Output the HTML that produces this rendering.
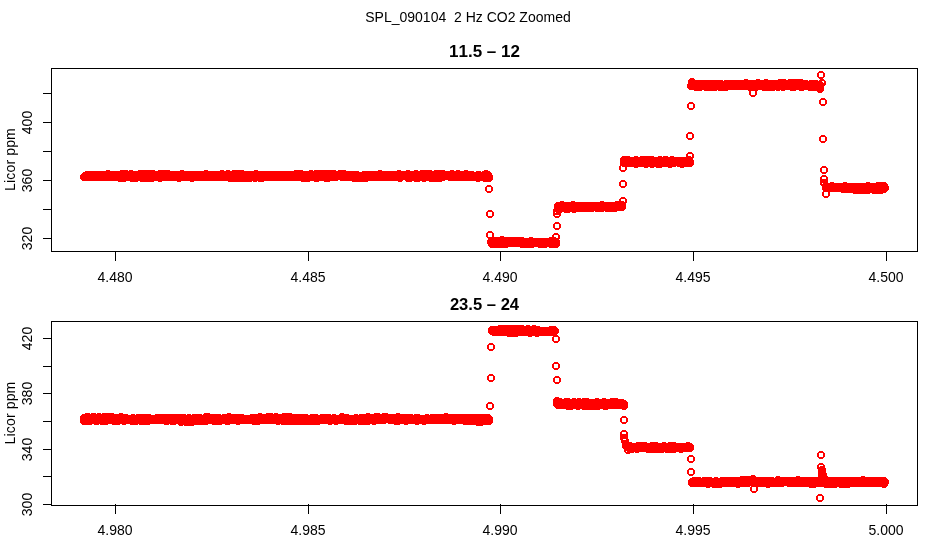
<!DOCTYPE html>
<html><head><meta charset="utf-8"><title>SPL_090104 2 Hz CO2 Zoomed</title>
<style>html,body{margin:0;padding:0;background:#fff;overflow:hidden}svg{display:block}text{font-family:"Liberation Sans",sans-serif;fill:#000;font-kerning:none}</style></head><body>
<svg width="936" height="540" viewBox="0 0 936 540">
<defs><path id="c" fill="#f00" shape-rendering="crispEdges" d="M2 0h4v1h1v1h1v4h-1v1h-1v1h-4v-1h-1v-1h-1v-4h1v-1h1zM2 2v4h4v-4z"/></defs>
<rect width="936" height="540" fill="#fff"/>
<text x="468" y="22" font-size="14" text-anchor="middle" xml:space="preserve">SPL_090104&#160; 2 Hz CO2 Zoomed</text>
<g stroke="#000" fill="none" shape-rendering="crispEdges"><path d="M51.5 68.5H917.5V251.5H51.5Z"/><path d="M115.5 252v9M308.5 252v9M500.5 252v9M693.5 252v9M886.5 252v9M51 93.5h-8M51 122.5h-8M51 151.5h-8M51 180.5h-8M51 209.5h-8M51 238.5h-8"/></g>
<text x="484.5" y="57" font-size="17" text-anchor="middle" font-weight="bold">11.5 &#8211; 12</text>
<text x="115" y="282" font-size="14" text-anchor="middle">4.480</text>
<text x="308" y="282" font-size="14" text-anchor="middle">4.485</text>
<text x="500" y="282" font-size="14" text-anchor="middle">4.490</text>
<text x="693" y="282" font-size="14" text-anchor="middle">4.495</text>
<text x="886" y="282" font-size="14" text-anchor="middle">4.500</text>
<text x="32" y="122.5" font-size="14" text-anchor="middle" transform="rotate(-90 32 122.5)">400</text>
<text x="32" y="180.5" font-size="14" text-anchor="middle" transform="rotate(-90 32 180.5)">360</text>
<text x="32" y="238.5" font-size="14" text-anchor="middle" transform="rotate(-90 32 238.5)">320</text>
<text x="15" y="159.5" font-size="14" text-anchor="middle" transform="rotate(-90 15 159.5)" letter-spacing="0.15">Licor ppm</text>
<g stroke="#000" fill="none" shape-rendering="crispEdges"><path d="M51.5 321.5H917.5V505.5H51.5Z"/><path d="M115.5 504v10M308.5 504v10M500.5 504v10M693.5 504v10M886.5 504v10M51 338.5h-8M51 366.5h-8M51 393.5h-8M51 421.5h-8M51 449.5h-8M51 476.5h-8M51 504.5h-8"/></g>
<text x="484.5" y="310" font-size="16.6" text-anchor="middle" font-weight="bold">23.5 &#8211; 24</text>
<text x="115" y="535" font-size="14" text-anchor="middle">4.980</text>
<text x="308" y="535" font-size="14" text-anchor="middle">4.985</text>
<text x="500" y="535" font-size="14" text-anchor="middle">4.990</text>
<text x="693" y="535" font-size="14" text-anchor="middle">4.995</text>
<text x="886" y="535" font-size="14" text-anchor="middle">5.000</text>
<text x="32" y="338.5" font-size="14" text-anchor="middle" transform="rotate(-90 32 338.5)">420</text>
<text x="32" y="393.5" font-size="14" text-anchor="middle" transform="rotate(-90 32 393.5)">380</text>
<text x="32" y="449.5" font-size="14" text-anchor="middle" transform="rotate(-90 32 449.5)">340</text>
<text x="32" y="504.5" font-size="14" text-anchor="middle" transform="rotate(-90 32 504.5)">300</text>
<text x="15" y="413" font-size="14" text-anchor="middle" transform="rotate(-90 15 413)" letter-spacing="0.15">Licor ppm</text>
<g><use href="#c" x="80" y="173"/><use href="#c" x="81" y="172"/><use href="#c" x="82" y="172"/><use href="#c" x="82" y="173"/><use href="#c" x="83" y="172"/><use href="#c" x="83" y="173"/><use href="#c" x="83" y="171"/><use href="#c" x="84" y="172"/><use href="#c" x="85" y="172"/><use href="#c" x="86" y="172"/><use href="#c" x="86" y="173"/><use href="#c" x="87" y="172"/><use href="#c" x="86" y="171"/><use href="#c" x="87" y="173"/><use href="#c" x="88" y="173"/><use href="#c" x="88" y="172"/><use href="#c" x="89" y="173"/><use href="#c" x="90" y="171"/><use href="#c" x="90" y="173"/><use href="#c" x="90" y="172"/><use href="#c" x="92" y="171"/><use href="#c" x="92" y="173"/><use href="#c" x="92" y="172"/><use href="#c" x="93" y="171"/><use href="#c" x="93" y="173"/><use href="#c" x="94" y="172"/><use href="#c" x="94" y="171"/><use href="#c" x="95" y="171"/><use href="#c" x="95" y="172"/><use href="#c" x="96" y="171"/><use href="#c" x="96" y="172"/><use href="#c" x="97" y="173"/><use href="#c" x="97" y="171"/><use href="#c" x="98" y="172"/><use href="#c" x="98" y="171"/><use href="#c" x="99" y="172"/><use href="#c" x="98" y="173"/><use href="#c" x="100" y="171"/><use href="#c" x="100" y="172"/><use href="#c" x="101" y="173"/><use href="#c" x="101" y="171"/><use href="#c" x="102" y="172"/><use href="#c" x="102" y="171"/><use href="#c" x="103" y="172"/><use href="#c" x="104" y="171"/><use href="#c" x="104" y="172"/><use href="#c" x="104" y="173"/><use href="#c" x="105" y="171"/><use href="#c" x="105" y="172"/><use href="#c" x="104" y="170"/><use href="#c" x="106" y="172"/><use href="#c" x="106" y="173"/><use href="#c" x="107" y="172"/><use href="#c" x="108" y="173"/><use href="#c" x="108" y="172"/><use href="#c" x="109" y="171"/><use href="#c" x="110" y="171"/><use href="#c" x="110" y="172"/><use href="#c" x="110" y="173"/><use href="#c" x="112" y="172"/><use href="#c" x="112" y="173"/><use href="#c" x="112" y="171"/><use href="#c" x="113" y="172"/><use href="#c" x="114" y="172"/><use href="#c" x="114" y="171"/><use href="#c" x="115" y="173"/><use href="#c" x="115" y="172"/><use href="#c" x="114" y="173"/><use href="#c" x="116" y="172"/><use href="#c" x="116" y="174"/><use href="#c" x="116" y="171"/><use href="#c" x="117" y="171"/><use href="#c" x="116" y="173"/><use href="#c" x="117" y="173"/><use href="#c" x="118" y="172"/><use href="#c" x="118" y="170"/><use href="#c" x="118" y="171"/><use href="#c" x="120" y="172"/><use href="#c" x="120" y="171"/><use href="#c" x="120" y="173"/><use href="#c" x="121" y="171"/><use href="#c" x="120" y="174"/><use href="#c" x="122" y="170"/><use href="#c" x="122" y="172"/><use href="#c" x="122" y="171"/><use href="#c" x="123" y="172"/><use href="#c" x="123" y="173"/><use href="#c" x="122" y="173"/><use href="#c" x="124" y="173"/><use href="#c" x="124" y="171"/><use href="#c" x="125" y="173"/><use href="#c" x="125" y="172"/><use href="#c" x="124" y="172"/><use href="#c" x="126" y="172"/><use href="#c" x="126" y="173"/><use href="#c" x="127" y="170"/><use href="#c" x="127" y="172"/><use href="#c" x="128" y="172"/><use href="#c" x="128" y="171"/><use href="#c" x="128" y="174"/><use href="#c" x="129" y="171"/><use href="#c" x="128" y="173"/><use href="#c" x="129" y="173"/><use href="#c" x="130" y="172"/><use href="#c" x="130" y="173"/><use href="#c" x="131" y="172"/><use href="#c" x="132" y="174"/><use href="#c" x="132" y="171"/><use href="#c" x="132" y="172"/><use href="#c" x="132" y="173"/><use href="#c" x="133" y="171"/><use href="#c" x="134" y="173"/><use href="#c" x="134" y="172"/><use href="#c" x="135" y="171"/><use href="#c" x="136" y="172"/><use href="#c" x="136" y="171"/><use href="#c" x="137" y="172"/><use href="#c" x="136" y="170"/><use href="#c" x="138" y="174"/><use href="#c" x="138" y="172"/><use href="#c" x="138" y="173"/><use href="#c" x="139" y="172"/><use href="#c" x="139" y="171"/><use href="#c" x="138" y="171"/><use href="#c" x="140" y="172"/><use href="#c" x="140" y="173"/><use href="#c" x="140" y="170"/><use href="#c" x="140" y="171"/><use href="#c" x="141" y="172"/><use href="#c" x="142" y="173"/><use href="#c" x="142" y="172"/><use href="#c" x="142" y="174"/><use href="#c" x="142" y="171"/><use href="#c" x="143" y="174"/><use href="#c" x="143" y="172"/><use href="#c" x="143" y="171"/><use href="#c" x="144" y="172"/><use href="#c" x="144" y="173"/><use href="#c" x="144" y="170"/><use href="#c" x="145" y="172"/><use href="#c" x="145" y="174"/><use href="#c" x="145" y="173"/><use href="#c" x="146" y="174"/><use href="#c" x="146" y="172"/><use href="#c" x="146" y="173"/><use href="#c" x="147" y="171"/><use href="#c" x="147" y="173"/><use href="#c" x="147" y="170"/><use href="#c" x="148" y="171"/><use href="#c" x="148" y="173"/><use href="#c" x="148" y="172"/><use href="#c" x="148" y="174"/><use href="#c" x="149" y="170"/><use href="#c" x="148" y="170"/><use href="#c" x="149" y="172"/><use href="#c" x="150" y="171"/><use href="#c" x="150" y="173"/><use href="#c" x="150" y="172"/><use href="#c" x="151" y="172"/><use href="#c" x="152" y="173"/><use href="#c" x="152" y="172"/><use href="#c" x="152" y="171"/><use href="#c" x="153" y="172"/><use href="#c" x="154" y="171"/><use href="#c" x="155" y="171"/><use href="#c" x="154" y="172"/><use href="#c" x="156" y="171"/><use href="#c" x="156" y="174"/><use href="#c" x="156" y="170"/><use href="#c" x="157" y="172"/><use href="#c" x="156" y="172"/><use href="#c" x="156" y="173"/><use href="#c" x="158" y="170"/><use href="#c" x="158" y="171"/><use href="#c" x="158" y="172"/><use href="#c" x="159" y="172"/><use href="#c" x="160" y="171"/><use href="#c" x="160" y="170"/><use href="#c" x="160" y="173"/><use href="#c" x="161" y="171"/><use href="#c" x="162" y="171"/><use href="#c" x="162" y="172"/><use href="#c" x="163" y="170"/><use href="#c" x="162" y="173"/><use href="#c" x="164" y="173"/><use href="#c" x="164" y="172"/><use href="#c" x="164" y="171"/><use href="#c" x="164" y="170"/><use href="#c" x="165" y="172"/><use href="#c" x="166" y="172"/><use href="#c" x="166" y="171"/><use href="#c" x="167" y="171"/><use href="#c" x="167" y="172"/><use href="#c" x="168" y="171"/><use href="#c" x="168" y="172"/><use href="#c" x="169" y="172"/><use href="#c" x="169" y="171"/><use href="#c" x="168" y="173"/><use href="#c" x="170" y="172"/><use href="#c" x="171" y="171"/><use href="#c" x="170" y="173"/><use href="#c" x="172" y="172"/><use href="#c" x="172" y="171"/><use href="#c" x="172" y="173"/><use href="#c" x="174" y="171"/><use href="#c" x="174" y="172"/><use href="#c" x="175" y="172"/><use href="#c" x="174" y="173"/><use href="#c" x="175" y="174"/><use href="#c" x="176" y="172"/><use href="#c" x="176" y="171"/><use href="#c" x="176" y="173"/><use href="#c" x="177" y="173"/><use href="#c" x="177" y="172"/><use href="#c" x="178" y="170"/><use href="#c" x="178" y="172"/><use href="#c" x="178" y="171"/><use href="#c" x="180" y="173"/><use href="#c" x="180" y="172"/><use href="#c" x="180" y="171"/><use href="#c" x="181" y="172"/><use href="#c" x="181" y="173"/><use href="#c" x="182" y="173"/><use href="#c" x="182" y="172"/><use href="#c" x="183" y="172"/><use href="#c" x="184" y="171"/><use href="#c" x="184" y="172"/><use href="#c" x="184" y="173"/><use href="#c" x="185" y="172"/><use href="#c" x="186" y="172"/><use href="#c" x="187" y="171"/><use href="#c" x="187" y="172"/><use href="#c" x="188" y="172"/><use href="#c" x="188" y="171"/><use href="#c" x="188" y="174"/><use href="#c" x="189" y="172"/><use href="#c" x="190" y="172"/><use href="#c" x="191" y="172"/><use href="#c" x="191" y="171"/><use href="#c" x="190" y="171"/><use href="#c" x="192" y="172"/><use href="#c" x="192" y="171"/><use href="#c" x="192" y="173"/><use href="#c" x="193" y="172"/><use href="#c" x="194" y="173"/><use href="#c" x="194" y="171"/><use href="#c" x="194" y="172"/><use href="#c" x="195" y="172"/><use href="#c" x="195" y="171"/><use href="#c" x="196" y="172"/><use href="#c" x="196" y="173"/><use href="#c" x="196" y="171"/><use href="#c" x="197" y="172"/><use href="#c" x="198" y="172"/><use href="#c" x="198" y="171"/><use href="#c" x="198" y="173"/><use href="#c" x="199" y="172"/><use href="#c" x="199" y="171"/><use href="#c" x="199" y="173"/><use href="#c" x="200" y="172"/><use href="#c" x="200" y="173"/><use href="#c" x="202" y="171"/><use href="#c" x="202" y="172"/><use href="#c" x="202" y="173"/><use href="#c" x="202" y="170"/><use href="#c" x="204" y="172"/><use href="#c" x="204" y="173"/><use href="#c" x="204" y="171"/><use href="#c" x="205" y="172"/><use href="#c" x="206" y="171"/><use href="#c" x="206" y="172"/><use href="#c" x="206" y="173"/><use href="#c" x="207" y="171"/><use href="#c" x="207" y="173"/><use href="#c" x="207" y="172"/><use href="#c" x="208" y="173"/><use href="#c" x="208" y="172"/><use href="#c" x="209" y="171"/><use href="#c" x="208" y="171"/><use href="#c" x="210" y="172"/><use href="#c" x="210" y="171"/><use href="#c" x="210" y="173"/><use href="#c" x="211" y="173"/><use href="#c" x="212" y="171"/><use href="#c" x="212" y="172"/><use href="#c" x="212" y="173"/><use href="#c" x="214" y="173"/><use href="#c" x="214" y="171"/><use href="#c" x="214" y="172"/><use href="#c" x="215" y="172"/><use href="#c" x="215" y="171"/><use href="#c" x="216" y="171"/><use href="#c" x="216" y="173"/><use href="#c" x="217" y="173"/><use href="#c" x="217" y="171"/><use href="#c" x="218" y="170"/><use href="#c" x="218" y="171"/><use href="#c" x="218" y="173"/><use href="#c" x="218" y="172"/><use href="#c" x="219" y="172"/><use href="#c" x="220" y="172"/><use href="#c" x="220" y="171"/><use href="#c" x="221" y="171"/><use href="#c" x="220" y="173"/><use href="#c" x="221" y="172"/><use href="#c" x="221" y="173"/><use href="#c" x="222" y="171"/><use href="#c" x="222" y="173"/><use href="#c" x="222" y="172"/><use href="#c" x="223" y="173"/><use href="#c" x="223" y="171"/><use href="#c" x="223" y="172"/><use href="#c" x="224" y="172"/><use href="#c" x="224" y="170"/><use href="#c" x="224" y="173"/><use href="#c" x="225" y="171"/><use href="#c" x="225" y="173"/><use href="#c" x="224" y="171"/><use href="#c" x="226" y="173"/><use href="#c" x="226" y="172"/><use href="#c" x="226" y="174"/><use href="#c" x="226" y="171"/><use href="#c" x="227" y="173"/><use href="#c" x="227" y="172"/><use href="#c" x="228" y="171"/><use href="#c" x="228" y="172"/><use href="#c" x="228" y="173"/><use href="#c" x="228" y="174"/><use href="#c" x="229" y="173"/><use href="#c" x="230" y="173"/><use href="#c" x="230" y="170"/><use href="#c" x="230" y="171"/><use href="#c" x="230" y="172"/><use href="#c" x="231" y="173"/><use href="#c" x="231" y="172"/><use href="#c" x="232" y="171"/><use href="#c" x="232" y="172"/><use href="#c" x="232" y="173"/><use href="#c" x="232" y="170"/><use href="#c" x="233" y="172"/><use href="#c" x="232" y="174"/><use href="#c" x="234" y="173"/><use href="#c" x="234" y="172"/><use href="#c" x="234" y="171"/><use href="#c" x="234" y="174"/><use href="#c" x="235" y="172"/><use href="#c" x="236" y="173"/><use href="#c" x="236" y="170"/><use href="#c" x="236" y="171"/><use href="#c" x="236" y="172"/><use href="#c" x="237" y="171"/><use href="#c" x="237" y="174"/><use href="#c" x="238" y="173"/><use href="#c" x="238" y="172"/><use href="#c" x="238" y="174"/><use href="#c" x="239" y="172"/><use href="#c" x="238" y="170"/><use href="#c" x="240" y="174"/><use href="#c" x="240" y="172"/><use href="#c" x="240" y="173"/><use href="#c" x="241" y="174"/><use href="#c" x="241" y="173"/><use href="#c" x="240" y="171"/><use href="#c" x="242" y="172"/><use href="#c" x="242" y="173"/><use href="#c" x="243" y="172"/><use href="#c" x="243" y="171"/><use href="#c" x="243" y="174"/><use href="#c" x="244" y="172"/><use href="#c" x="244" y="171"/><use href="#c" x="244" y="173"/><use href="#c" x="245" y="172"/><use href="#c" x="245" y="173"/><use href="#c" x="245" y="174"/><use href="#c" x="246" y="171"/><use href="#c" x="246" y="174"/><use href="#c" x="246" y="172"/><use href="#c" x="246" y="173"/><use href="#c" x="247" y="173"/><use href="#c" x="247" y="172"/><use href="#c" x="248" y="171"/><use href="#c" x="248" y="173"/><use href="#c" x="248" y="172"/><use href="#c" x="249" y="172"/><use href="#c" x="250" y="172"/><use href="#c" x="250" y="173"/><use href="#c" x="251" y="174"/><use href="#c" x="251" y="172"/><use href="#c" x="252" y="170"/><use href="#c" x="252" y="172"/><use href="#c" x="252" y="173"/><use href="#c" x="253" y="172"/><use href="#c" x="252" y="171"/><use href="#c" x="254" y="171"/><use href="#c" x="254" y="173"/><use href="#c" x="254" y="172"/><use href="#c" x="255" y="172"/><use href="#c" x="255" y="173"/><use href="#c" x="256" y="173"/><use href="#c" x="256" y="172"/><use href="#c" x="256" y="174"/><use href="#c" x="257" y="172"/><use href="#c" x="257" y="173"/><use href="#c" x="258" y="172"/><use href="#c" x="258" y="171"/><use href="#c" x="258" y="174"/><use href="#c" x="259" y="172"/><use href="#c" x="259" y="173"/><use href="#c" x="259" y="171"/><use href="#c" x="260" y="172"/><use href="#c" x="260" y="171"/><use href="#c" x="261" y="171"/><use href="#c" x="261" y="172"/><use href="#c" x="262" y="173"/><use href="#c" x="262" y="171"/><use href="#c" x="262" y="172"/><use href="#c" x="263" y="172"/><use href="#c" x="263" y="171"/><use href="#c" x="264" y="172"/><use href="#c" x="264" y="171"/><use href="#c" x="265" y="171"/><use href="#c" x="265" y="173"/><use href="#c" x="266" y="173"/><use href="#c" x="266" y="172"/><use href="#c" x="266" y="171"/><use href="#c" x="267" y="172"/><use href="#c" x="267" y="171"/><use href="#c" x="268" y="173"/><use href="#c" x="268" y="172"/><use href="#c" x="269" y="172"/><use href="#c" x="269" y="171"/><use href="#c" x="270" y="171"/><use href="#c" x="270" y="173"/><use href="#c" x="270" y="172"/><use href="#c" x="271" y="172"/><use href="#c" x="272" y="172"/><use href="#c" x="272" y="171"/><use href="#c" x="272" y="173"/><use href="#c" x="273" y="172"/><use href="#c" x="273" y="173"/><use href="#c" x="274" y="173"/><use href="#c" x="274" y="172"/><use href="#c" x="274" y="171"/><use href="#c" x="275" y="171"/><use href="#c" x="276" y="171"/><use href="#c" x="276" y="173"/><use href="#c" x="277" y="172"/><use href="#c" x="276" y="172"/><use href="#c" x="278" y="171"/><use href="#c" x="278" y="172"/><use href="#c" x="278" y="173"/><use href="#c" x="279" y="173"/><use href="#c" x="280" y="173"/><use href="#c" x="280" y="172"/><use href="#c" x="280" y="171"/><use href="#c" x="281" y="172"/><use href="#c" x="281" y="171"/><use href="#c" x="282" y="171"/><use href="#c" x="282" y="172"/><use href="#c" x="283" y="172"/><use href="#c" x="284" y="173"/><use href="#c" x="284" y="172"/><use href="#c" x="285" y="171"/><use href="#c" x="285" y="173"/><use href="#c" x="286" y="172"/><use href="#c" x="286" y="171"/><use href="#c" x="287" y="173"/><use href="#c" x="286" y="173"/><use href="#c" x="288" y="171"/><use href="#c" x="288" y="172"/><use href="#c" x="289" y="172"/><use href="#c" x="288" y="173"/><use href="#c" x="290" y="171"/><use href="#c" x="290" y="172"/><use href="#c" x="291" y="172"/><use href="#c" x="292" y="173"/><use href="#c" x="292" y="172"/><use href="#c" x="292" y="170"/><use href="#c" x="293" y="171"/><use href="#c" x="294" y="172"/><use href="#c" x="294" y="173"/><use href="#c" x="294" y="171"/><use href="#c" x="295" y="171"/><use href="#c" x="296" y="170"/><use href="#c" x="296" y="172"/><use href="#c" x="296" y="171"/><use href="#c" x="296" y="173"/><use href="#c" x="297" y="170"/><use href="#c" x="297" y="172"/><use href="#c" x="298" y="173"/><use href="#c" x="298" y="172"/><use href="#c" x="299" y="172"/><use href="#c" x="298" y="171"/><use href="#c" x="299" y="174"/><use href="#c" x="300" y="174"/><use href="#c" x="300" y="172"/><use href="#c" x="301" y="173"/><use href="#c" x="300" y="171"/><use href="#c" x="301" y="174"/><use href="#c" x="302" y="173"/><use href="#c" x="302" y="172"/><use href="#c" x="302" y="171"/><use href="#c" x="303" y="172"/><use href="#c" x="303" y="171"/><use href="#c" x="304" y="171"/><use href="#c" x="304" y="172"/><use href="#c" x="304" y="173"/><use href="#c" x="304" y="174"/><use href="#c" x="306" y="172"/><use href="#c" x="306" y="173"/><use href="#c" x="307" y="171"/><use href="#c" x="307" y="170"/><use href="#c" x="308" y="171"/><use href="#c" x="308" y="172"/><use href="#c" x="308" y="173"/><use href="#c" x="309" y="172"/><use href="#c" x="310" y="173"/><use href="#c" x="310" y="172"/><use href="#c" x="310" y="171"/><use href="#c" x="311" y="173"/><use href="#c" x="312" y="172"/><use href="#c" x="312" y="173"/><use href="#c" x="312" y="171"/><use href="#c" x="312" y="174"/><use href="#c" x="313" y="174"/><use href="#c" x="313" y="172"/><use href="#c" x="312" y="170"/><use href="#c" x="314" y="173"/><use href="#c" x="314" y="171"/><use href="#c" x="314" y="172"/><use href="#c" x="315" y="172"/><use href="#c" x="315" y="173"/><use href="#c" x="316" y="171"/><use href="#c" x="316" y="172"/><use href="#c" x="316" y="170"/><use href="#c" x="316" y="173"/><use href="#c" x="317" y="171"/><use href="#c" x="318" y="173"/><use href="#c" x="318" y="170"/><use href="#c" x="318" y="172"/><use href="#c" x="318" y="171"/><use href="#c" x="319" y="173"/><use href="#c" x="319" y="172"/><use href="#c" x="320" y="170"/><use href="#c" x="320" y="173"/><use href="#c" x="320" y="172"/><use href="#c" x="320" y="171"/><use href="#c" x="321" y="172"/><use href="#c" x="322" y="172"/><use href="#c" x="323" y="172"/><use href="#c" x="322" y="174"/><use href="#c" x="323" y="173"/><use href="#c" x="324" y="172"/><use href="#c" x="324" y="174"/><use href="#c" x="324" y="170"/><use href="#c" x="325" y="173"/><use href="#c" x="325" y="172"/><use href="#c" x="326" y="172"/><use href="#c" x="326" y="171"/><use href="#c" x="326" y="170"/><use href="#c" x="326" y="173"/><use href="#c" x="327" y="172"/><use href="#c" x="328" y="172"/><use href="#c" x="328" y="170"/><use href="#c" x="328" y="171"/><use href="#c" x="329" y="171"/><use href="#c" x="329" y="173"/><use href="#c" x="330" y="173"/><use href="#c" x="330" y="172"/><use href="#c" x="330" y="171"/><use href="#c" x="331" y="171"/><use href="#c" x="330" y="170"/><use href="#c" x="331" y="172"/><use href="#c" x="332" y="171"/><use href="#c" x="332" y="172"/><use href="#c" x="332" y="173"/><use href="#c" x="334" y="171"/><use href="#c" x="334" y="172"/><use href="#c" x="335" y="171"/><use href="#c" x="335" y="172"/><use href="#c" x="336" y="172"/><use href="#c" x="336" y="171"/><use href="#c" x="336" y="170"/><use href="#c" x="337" y="172"/><use href="#c" x="337" y="171"/><use href="#c" x="338" y="173"/><use href="#c" x="338" y="172"/><use href="#c" x="338" y="171"/><use href="#c" x="339" y="172"/><use href="#c" x="339" y="171"/><use href="#c" x="340" y="172"/><use href="#c" x="340" y="170"/><use href="#c" x="341" y="173"/><use href="#c" x="340" y="171"/><use href="#c" x="342" y="172"/><use href="#c" x="343" y="171"/><use href="#c" x="342" y="173"/><use href="#c" x="342" y="171"/><use href="#c" x="344" y="172"/><use href="#c" x="345" y="172"/><use href="#c" x="345" y="171"/><use href="#c" x="346" y="172"/><use href="#c" x="347" y="172"/><use href="#c" x="347" y="171"/><use href="#c" x="346" y="173"/><use href="#c" x="348" y="172"/><use href="#c" x="348" y="171"/><use href="#c" x="349" y="173"/><use href="#c" x="350" y="174"/><use href="#c" x="350" y="173"/><use href="#c" x="350" y="172"/><use href="#c" x="350" y="171"/><use href="#c" x="351" y="173"/><use href="#c" x="352" y="172"/><use href="#c" x="352" y="171"/><use href="#c" x="352" y="173"/><use href="#c" x="352" y="174"/><use href="#c" x="353" y="172"/><use href="#c" x="353" y="171"/><use href="#c" x="354" y="172"/><use href="#c" x="354" y="174"/><use href="#c" x="354" y="173"/><use href="#c" x="355" y="172"/><use href="#c" x="356" y="173"/><use href="#c" x="357" y="173"/><use href="#c" x="357" y="172"/><use href="#c" x="358" y="174"/><use href="#c" x="358" y="173"/><use href="#c" x="358" y="172"/><use href="#c" x="359" y="172"/><use href="#c" x="360" y="172"/><use href="#c" x="360" y="173"/><use href="#c" x="360" y="171"/><use href="#c" x="361" y="171"/><use href="#c" x="362" y="173"/><use href="#c" x="362" y="174"/><use href="#c" x="363" y="172"/><use href="#c" x="362" y="172"/><use href="#c" x="363" y="173"/><use href="#c" x="364" y="173"/><use href="#c" x="364" y="172"/><use href="#c" x="364" y="171"/><use href="#c" x="365" y="172"/><use href="#c" x="365" y="171"/><use href="#c" x="365" y="173"/><use href="#c" x="366" y="172"/><use href="#c" x="366" y="171"/><use href="#c" x="367" y="172"/><use href="#c" x="367" y="173"/><use href="#c" x="368" y="172"/><use href="#c" x="368" y="173"/><use href="#c" x="369" y="172"/><use href="#c" x="370" y="172"/><use href="#c" x="370" y="173"/><use href="#c" x="370" y="171"/><use href="#c" x="371" y="172"/><use href="#c" x="371" y="173"/><use href="#c" x="372" y="172"/><use href="#c" x="372" y="171"/><use href="#c" x="373" y="173"/><use href="#c" x="373" y="171"/><use href="#c" x="372" y="173"/><use href="#c" x="374" y="173"/><use href="#c" x="374" y="172"/><use href="#c" x="375" y="173"/><use href="#c" x="375" y="172"/><use href="#c" x="376" y="172"/><use href="#c" x="376" y="173"/><use href="#c" x="376" y="170"/><use href="#c" x="376" y="171"/><use href="#c" x="377" y="173"/><use href="#c" x="378" y="173"/><use href="#c" x="378" y="172"/><use href="#c" x="379" y="172"/><use href="#c" x="379" y="171"/><use href="#c" x="380" y="172"/><use href="#c" x="380" y="171"/><use href="#c" x="380" y="173"/><use href="#c" x="381" y="172"/><use href="#c" x="381" y="173"/><use href="#c" x="382" y="172"/><use href="#c" x="382" y="171"/><use href="#c" x="383" y="171"/><use href="#c" x="384" y="172"/><use href="#c" x="384" y="173"/><use href="#c" x="385" y="171"/><use href="#c" x="386" y="171"/><use href="#c" x="386" y="173"/><use href="#c" x="386" y="172"/><use href="#c" x="387" y="172"/><use href="#c" x="388" y="173"/><use href="#c" x="388" y="172"/><use href="#c" x="389" y="172"/><use href="#c" x="389" y="173"/><use href="#c" x="390" y="172"/><use href="#c" x="390" y="171"/><use href="#c" x="390" y="173"/><use href="#c" x="391" y="172"/><use href="#c" x="392" y="173"/><use href="#c" x="392" y="171"/><use href="#c" x="392" y="172"/><use href="#c" x="393" y="172"/><use href="#c" x="393" y="171"/><use href="#c" x="394" y="172"/><use href="#c" x="394" y="173"/><use href="#c" x="394" y="171"/><use href="#c" x="395" y="172"/><use href="#c" x="395" y="170"/><use href="#c" x="396" y="173"/><use href="#c" x="396" y="174"/><use href="#c" x="396" y="172"/><use href="#c" x="396" y="171"/><use href="#c" x="397" y="172"/><use href="#c" x="397" y="173"/><use href="#c" x="398" y="172"/><use href="#c" x="398" y="171"/><use href="#c" x="399" y="172"/><use href="#c" x="400" y="172"/><use href="#c" x="400" y="171"/><use href="#c" x="401" y="172"/><use href="#c" x="402" y="171"/><use href="#c" x="402" y="172"/><use href="#c" x="403" y="172"/><use href="#c" x="404" y="172"/><use href="#c" x="404" y="171"/><use href="#c" x="404" y="170"/><use href="#c" x="405" y="172"/><use href="#c" x="404" y="174"/><use href="#c" x="406" y="172"/><use href="#c" x="406" y="174"/><use href="#c" x="406" y="171"/><use href="#c" x="406" y="173"/><use href="#c" x="407" y="171"/><use href="#c" x="408" y="171"/><use href="#c" x="408" y="173"/><use href="#c" x="408" y="172"/><use href="#c" x="409" y="173"/><use href="#c" x="410" y="172"/><use href="#c" x="410" y="171"/><use href="#c" x="410" y="173"/><use href="#c" x="411" y="172"/><use href="#c" x="412" y="172"/><use href="#c" x="412" y="170"/><use href="#c" x="412" y="171"/><use href="#c" x="412" y="174"/><use href="#c" x="412" y="173"/><use href="#c" x="414" y="172"/><use href="#c" x="414" y="173"/><use href="#c" x="415" y="172"/><use href="#c" x="414" y="171"/><use href="#c" x="414" y="174"/><use href="#c" x="416" y="173"/><use href="#c" x="416" y="171"/><use href="#c" x="416" y="172"/><use href="#c" x="418" y="173"/><use href="#c" x="418" y="172"/><use href="#c" x="419" y="172"/><use href="#c" x="418" y="170"/><use href="#c" x="420" y="174"/><use href="#c" x="420" y="173"/><use href="#c" x="420" y="172"/><use href="#c" x="421" y="170"/><use href="#c" x="422" y="173"/><use href="#c" x="422" y="172"/><use href="#c" x="422" y="171"/><use href="#c" x="423" y="172"/><use href="#c" x="424" y="170"/><use href="#c" x="424" y="172"/><use href="#c" x="424" y="171"/><use href="#c" x="425" y="173"/><use href="#c" x="426" y="170"/><use href="#c" x="426" y="173"/><use href="#c" x="426" y="172"/><use href="#c" x="426" y="171"/><use href="#c" x="427" y="174"/><use href="#c" x="427" y="172"/><use href="#c" x="428" y="171"/><use href="#c" x="428" y="174"/><use href="#c" x="428" y="173"/><use href="#c" x="429" y="172"/><use href="#c" x="429" y="171"/><use href="#c" x="430" y="172"/><use href="#c" x="430" y="173"/><use href="#c" x="431" y="173"/><use href="#c" x="431" y="171"/><use href="#c" x="432" y="171"/><use href="#c" x="432" y="174"/><use href="#c" x="432" y="173"/><use href="#c" x="432" y="170"/><use href="#c" x="433" y="171"/><use href="#c" x="433" y="172"/><use href="#c" x="434" y="171"/><use href="#c" x="434" y="173"/><use href="#c" x="435" y="170"/><use href="#c" x="434" y="172"/><use href="#c" x="435" y="171"/><use href="#c" x="436" y="174"/><use href="#c" x="436" y="171"/><use href="#c" x="436" y="172"/><use href="#c" x="437" y="172"/><use href="#c" x="437" y="170"/><use href="#c" x="437" y="171"/><use href="#c" x="438" y="171"/><use href="#c" x="438" y="173"/><use href="#c" x="438" y="170"/><use href="#c" x="439" y="173"/><use href="#c" x="439" y="170"/><use href="#c" x="440" y="172"/><use href="#c" x="440" y="171"/><use href="#c" x="441" y="172"/><use href="#c" x="442" y="172"/><use href="#c" x="442" y="171"/><use href="#c" x="443" y="172"/><use href="#c" x="444" y="172"/><use href="#c" x="444" y="171"/><use href="#c" x="445" y="172"/><use href="#c" x="445" y="171"/><use href="#c" x="446" y="172"/><use href="#c" x="447" y="172"/><use href="#c" x="447" y="173"/><use href="#c" x="446" y="173"/><use href="#c" x="448" y="173"/><use href="#c" x="448" y="172"/><use href="#c" x="448" y="170"/><use href="#c" x="449" y="171"/><use href="#c" x="448" y="171"/><use href="#c" x="449" y="172"/><use href="#c" x="450" y="172"/><use href="#c" x="450" y="171"/><use href="#c" x="450" y="173"/><use href="#c" x="451" y="172"/><use href="#c" x="452" y="173"/><use href="#c" x="452" y="172"/><use href="#c" x="453" y="171"/><use href="#c" x="453" y="172"/><use href="#c" x="454" y="171"/><use href="#c" x="454" y="172"/><use href="#c" x="454" y="170"/><use href="#c" x="455" y="172"/><use href="#c" x="454" y="173"/><use href="#c" x="456" y="172"/><use href="#c" x="456" y="171"/><use href="#c" x="457" y="172"/><use href="#c" x="457" y="171"/><use href="#c" x="458" y="172"/><use href="#c" x="458" y="171"/><use href="#c" x="458" y="173"/><use href="#c" x="459" y="171"/><use href="#c" x="460" y="173"/><use href="#c" x="460" y="172"/><use href="#c" x="461" y="172"/><use href="#c" x="461" y="171"/><use href="#c" x="462" y="172"/><use href="#c" x="462" y="170"/><use href="#c" x="462" y="171"/><use href="#c" x="462" y="173"/><use href="#c" x="463" y="172"/><use href="#c" x="464" y="172"/><use href="#c" x="464" y="173"/><use href="#c" x="465" y="172"/><use href="#c" x="465" y="173"/><use href="#c" x="466" y="172"/><use href="#c" x="466" y="171"/><use href="#c" x="467" y="172"/><use href="#c" x="468" y="171"/><use href="#c" x="468" y="172"/><use href="#c" x="468" y="173"/><use href="#c" x="470" y="172"/><use href="#c" x="471" y="173"/><use href="#c" x="471" y="172"/><use href="#c" x="472" y="172"/><use href="#c" x="473" y="172"/><use href="#c" x="473" y="173"/><use href="#c" x="474" y="174"/><use href="#c" x="474" y="171"/><use href="#c" x="474" y="173"/><use href="#c" x="474" y="172"/><use href="#c" x="475" y="171"/><use href="#c" x="475" y="173"/><use href="#c" x="476" y="173"/><use href="#c" x="476" y="172"/><use href="#c" x="477" y="172"/><use href="#c" x="478" y="172"/><use href="#c" x="478" y="173"/><use href="#c" x="479" y="172"/><use href="#c" x="480" y="171"/><use href="#c" x="480" y="173"/><use href="#c" x="480" y="172"/><use href="#c" x="481" y="172"/><use href="#c" x="481" y="171"/><use href="#c" x="481" y="174"/><use href="#c" x="482" y="172"/><use href="#c" x="482" y="174"/><use href="#c" x="482" y="171"/><use href="#c" x="484" y="171"/><use href="#c" x="484" y="172"/><use href="#c" x="485" y="173"/><use href="#c" x="484" y="173"/><use href="#c" x="485" y="174"/><use href="#c" x="488" y="238"/><use href="#c" x="487" y="238"/><use href="#c" x="488" y="237"/><use href="#c" x="488" y="239"/><use href="#c" x="488" y="240"/><use href="#c" x="489" y="239"/><use href="#c" x="490" y="239"/><use href="#c" x="490" y="240"/><use href="#c" x="490" y="237"/><use href="#c" x="491" y="239"/><use href="#c" x="492" y="238"/><use href="#c" x="492" y="239"/><use href="#c" x="491" y="238"/><use href="#c" x="492" y="240"/><use href="#c" x="493" y="237"/><use href="#c" x="494" y="239"/><use href="#c" x="494" y="240"/><use href="#c" x="494" y="238"/><use href="#c" x="496" y="237"/><use href="#c" x="495" y="239"/><use href="#c" x="495" y="237"/><use href="#c" x="496" y="238"/><use href="#c" x="496" y="239"/><use href="#c" x="496" y="240"/><use href="#c" x="497" y="238"/><use href="#c" x="498" y="238"/><use href="#c" x="498" y="239"/><use href="#c" x="498" y="236"/><use href="#c" x="498" y="240"/><use href="#c" x="499" y="238"/><use href="#c" x="499" y="237"/><use href="#c" x="500" y="238"/><use href="#c" x="500" y="240"/><use href="#c" x="500" y="237"/><use href="#c" x="501" y="240"/><use href="#c" x="502" y="238"/><use href="#c" x="502" y="237"/><use href="#c" x="501" y="237"/><use href="#c" x="502" y="240"/><use href="#c" x="502" y="239"/><use href="#c" x="503" y="239"/><use href="#c" x="504" y="238"/><use href="#c" x="504" y="237"/><use href="#c" x="503" y="238"/><use href="#c" x="504" y="239"/><use href="#c" x="505" y="238"/><use href="#c" x="506" y="238"/><use href="#c" x="506" y="239"/><use href="#c" x="508" y="238"/><use href="#c" x="508" y="237"/><use href="#c" x="507" y="239"/><use href="#c" x="508" y="239"/><use href="#c" x="510" y="237"/><use href="#c" x="509" y="238"/><use href="#c" x="510" y="238"/><use href="#c" x="510" y="239"/><use href="#c" x="511" y="238"/><use href="#c" x="511" y="237"/><use href="#c" x="512" y="239"/><use href="#c" x="512" y="237"/><use href="#c" x="512" y="238"/><use href="#c" x="514" y="238"/><use href="#c" x="513" y="237"/><use href="#c" x="514" y="237"/><use href="#c" x="514" y="239"/><use href="#c" x="515" y="238"/><use href="#c" x="516" y="238"/><use href="#c" x="516" y="239"/><use href="#c" x="515" y="239"/><use href="#c" x="516" y="237"/><use href="#c" x="518" y="239"/><use href="#c" x="518" y="238"/><use href="#c" x="518" y="240"/><use href="#c" x="518" y="237"/><use href="#c" x="520" y="238"/><use href="#c" x="519" y="238"/><use href="#c" x="520" y="240"/><use href="#c" x="520" y="239"/><use href="#c" x="521" y="239"/><use href="#c" x="522" y="240"/><use href="#c" x="522" y="239"/><use href="#c" x="521" y="238"/><use href="#c" x="522" y="238"/><use href="#c" x="524" y="239"/><use href="#c" x="524" y="238"/><use href="#c" x="523" y="239"/><use href="#c" x="525" y="239"/><use href="#c" x="526" y="239"/><use href="#c" x="526" y="240"/><use href="#c" x="526" y="238"/><use href="#c" x="528" y="238"/><use href="#c" x="527" y="239"/><use href="#c" x="528" y="239"/><use href="#c" x="527" y="237"/><use href="#c" x="528" y="240"/><use href="#c" x="530" y="238"/><use href="#c" x="529" y="239"/><use href="#c" x="530" y="239"/><use href="#c" x="531" y="239"/><use href="#c" x="532" y="239"/><use href="#c" x="532" y="238"/><use href="#c" x="533" y="238"/><use href="#c" x="533" y="239"/><use href="#c" x="534" y="238"/><use href="#c" x="534" y="239"/><use href="#c" x="536" y="238"/><use href="#c" x="535" y="238"/><use href="#c" x="535" y="239"/><use href="#c" x="536" y="239"/><use href="#c" x="536" y="240"/><use href="#c" x="537" y="239"/><use href="#c" x="537" y="240"/><use href="#c" x="538" y="239"/><use href="#c" x="538" y="238"/><use href="#c" x="540" y="239"/><use href="#c" x="539" y="239"/><use href="#c" x="540" y="238"/><use href="#c" x="540" y="240"/><use href="#c" x="542" y="239"/><use href="#c" x="541" y="239"/><use href="#c" x="542" y="238"/><use href="#c" x="541" y="240"/><use href="#c" x="543" y="238"/><use href="#c" x="543" y="239"/><use href="#c" x="544" y="239"/><use href="#c" x="544" y="238"/><use href="#c" x="546" y="239"/><use href="#c" x="545" y="239"/><use href="#c" x="546" y="238"/><use href="#c" x="547" y="240"/><use href="#c" x="547" y="237"/><use href="#c" x="547" y="238"/><use href="#c" x="548" y="239"/><use href="#c" x="548" y="238"/><use href="#c" x="550" y="239"/><use href="#c" x="549" y="240"/><use href="#c" x="550" y="237"/><use href="#c" x="550" y="240"/><use href="#c" x="552" y="238"/><use href="#c" x="551" y="240"/><use href="#c" x="552" y="240"/><use href="#c" x="554" y="203"/><use href="#c" x="554" y="202"/><use href="#c" x="554" y="205"/><use href="#c" x="554" y="204"/><use href="#c" x="556" y="204"/><use href="#c" x="555" y="204"/><use href="#c" x="556" y="205"/><use href="#c" x="556" y="203"/><use href="#c" x="556" y="202"/><use href="#c" x="558" y="203"/><use href="#c" x="558" y="204"/><use href="#c" x="557" y="202"/><use href="#c" x="558" y="201"/><use href="#c" x="560" y="203"/><use href="#c" x="559" y="203"/><use href="#c" x="560" y="204"/><use href="#c" x="560" y="202"/><use href="#c" x="562" y="204"/><use href="#c" x="562" y="205"/><use href="#c" x="561" y="203"/><use href="#c" x="562" y="203"/><use href="#c" x="562" y="202"/><use href="#c" x="564" y="204"/><use href="#c" x="563" y="203"/><use href="#c" x="564" y="203"/><use href="#c" x="564" y="202"/><use href="#c" x="564" y="205"/><use href="#c" x="565" y="204"/><use href="#c" x="565" y="202"/><use href="#c" x="566" y="203"/><use href="#c" x="565" y="203"/><use href="#c" x="566" y="204"/><use href="#c" x="567" y="202"/><use href="#c" x="567" y="204"/><use href="#c" x="568" y="204"/><use href="#c" x="567" y="203"/><use href="#c" x="568" y="203"/><use href="#c" x="568" y="202"/><use href="#c" x="569" y="204"/><use href="#c" x="569" y="202"/><use href="#c" x="569" y="201"/><use href="#c" x="569" y="203"/><use href="#c" x="570" y="204"/><use href="#c" x="570" y="203"/><use href="#c" x="570" y="205"/><use href="#c" x="571" y="202"/><use href="#c" x="571" y="203"/><use href="#c" x="572" y="202"/><use href="#c" x="572" y="203"/><use href="#c" x="572" y="204"/><use href="#c" x="574" y="202"/><use href="#c" x="574" y="203"/><use href="#c" x="573" y="203"/><use href="#c" x="574" y="204"/><use href="#c" x="576" y="203"/><use href="#c" x="575" y="202"/><use href="#c" x="575" y="203"/><use href="#c" x="576" y="202"/><use href="#c" x="578" y="203"/><use href="#c" x="577" y="203"/><use href="#c" x="578" y="202"/><use href="#c" x="578" y="204"/><use href="#c" x="580" y="203"/><use href="#c" x="580" y="202"/><use href="#c" x="579" y="203"/><use href="#c" x="581" y="204"/><use href="#c" x="582" y="202"/><use href="#c" x="582" y="203"/><use href="#c" x="581" y="202"/><use href="#c" x="582" y="204"/><use href="#c" x="583" y="202"/><use href="#c" x="583" y="204"/><use href="#c" x="584" y="203"/><use href="#c" x="586" y="203"/><use href="#c" x="585" y="203"/><use href="#c" x="585" y="202"/><use href="#c" x="586" y="202"/><use href="#c" x="588" y="203"/><use href="#c" x="587" y="202"/><use href="#c" x="587" y="203"/><use href="#c" x="587" y="204"/><use href="#c" x="588" y="204"/><use href="#c" x="588" y="202"/><use href="#c" x="589" y="203"/><use href="#c" x="590" y="203"/><use href="#c" x="590" y="202"/><use href="#c" x="591" y="203"/><use href="#c" x="592" y="203"/><use href="#c" x="592" y="202"/><use href="#c" x="594" y="203"/><use href="#c" x="593" y="204"/><use href="#c" x="593" y="202"/><use href="#c" x="594" y="204"/><use href="#c" x="596" y="204"/><use href="#c" x="595" y="203"/><use href="#c" x="596" y="202"/><use href="#c" x="596" y="203"/><use href="#c" x="598" y="201"/><use href="#c" x="597" y="204"/><use href="#c" x="597" y="203"/><use href="#c" x="598" y="204"/><use href="#c" x="598" y="202"/><use href="#c" x="600" y="203"/><use href="#c" x="599" y="202"/><use href="#c" x="600" y="202"/><use href="#c" x="602" y="203"/><use href="#c" x="602" y="202"/><use href="#c" x="601" y="203"/><use href="#c" x="603" y="202"/><use href="#c" x="604" y="202"/><use href="#c" x="604" y="203"/><use href="#c" x="603" y="204"/><use href="#c" x="606" y="203"/><use href="#c" x="606" y="204"/><use href="#c" x="605" y="203"/><use href="#c" x="605" y="202"/><use href="#c" x="606" y="202"/><use href="#c" x="608" y="202"/><use href="#c" x="607" y="202"/><use href="#c" x="607" y="203"/><use href="#c" x="608" y="203"/><use href="#c" x="610" y="202"/><use href="#c" x="609" y="202"/><use href="#c" x="610" y="203"/><use href="#c" x="610" y="204"/><use href="#c" x="611" y="202"/><use href="#c" x="611" y="204"/><use href="#c" x="612" y="202"/><use href="#c" x="612" y="203"/><use href="#c" x="613" y="202"/><use href="#c" x="614" y="202"/><use href="#c" x="613" y="201"/><use href="#c" x="614" y="203"/><use href="#c" x="616" y="202"/><use href="#c" x="616" y="203"/><use href="#c" x="615" y="203"/><use href="#c" x="615" y="202"/><use href="#c" x="617" y="202"/><use href="#c" x="618" y="202"/><use href="#c" x="618" y="203"/><use href="#c" x="618" y="201"/><use href="#c" x="620" y="159"/><use href="#c" x="620" y="158"/><use href="#c" x="620" y="157"/><use href="#c" x="620" y="156"/><use href="#c" x="621" y="158"/><use href="#c" x="622" y="157"/><use href="#c" x="622" y="158"/><use href="#c" x="622" y="159"/><use href="#c" x="623" y="158"/><use href="#c" x="623" y="157"/><use href="#c" x="624" y="157"/><use href="#c" x="624" y="158"/><use href="#c" x="624" y="156"/><use href="#c" x="625" y="158"/><use href="#c" x="624" y="159"/><use href="#c" x="626" y="158"/><use href="#c" x="627" y="158"/><use href="#c" x="626" y="157"/><use href="#c" x="627" y="159"/><use href="#c" x="628" y="158"/><use href="#c" x="628" y="157"/><use href="#c" x="628" y="159"/><use href="#c" x="629" y="157"/><use href="#c" x="630" y="158"/><use href="#c" x="631" y="158"/><use href="#c" x="630" y="157"/><use href="#c" x="632" y="158"/><use href="#c" x="632" y="159"/><use href="#c" x="632" y="160"/><use href="#c" x="632" y="156"/><use href="#c" x="632" y="157"/><use href="#c" x="633" y="158"/><use href="#c" x="634" y="157"/><use href="#c" x="634" y="159"/><use href="#c" x="634" y="158"/><use href="#c" x="635" y="158"/><use href="#c" x="635" y="159"/><use href="#c" x="636" y="159"/><use href="#c" x="636" y="157"/><use href="#c" x="637" y="158"/><use href="#c" x="637" y="157"/><use href="#c" x="638" y="158"/><use href="#c" x="638" y="156"/><use href="#c" x="638" y="159"/><use href="#c" x="638" y="157"/><use href="#c" x="639" y="156"/><use href="#c" x="639" y="158"/><use href="#c" x="640" y="158"/><use href="#c" x="640" y="159"/><use href="#c" x="640" y="156"/><use href="#c" x="640" y="157"/><use href="#c" x="641" y="158"/><use href="#c" x="641" y="159"/><use href="#c" x="642" y="158"/><use href="#c" x="642" y="160"/><use href="#c" x="642" y="157"/><use href="#c" x="642" y="156"/><use href="#c" x="643" y="157"/><use href="#c" x="643" y="156"/><use href="#c" x="644" y="159"/><use href="#c" x="644" y="156"/><use href="#c" x="644" y="157"/><use href="#c" x="644" y="158"/><use href="#c" x="645" y="157"/><use href="#c" x="646" y="158"/><use href="#c" x="646" y="156"/><use href="#c" x="646" y="157"/><use href="#c" x="647" y="156"/><use href="#c" x="647" y="159"/><use href="#c" x="648" y="159"/><use href="#c" x="648" y="156"/><use href="#c" x="648" y="158"/><use href="#c" x="649" y="159"/><use href="#c" x="648" y="160"/><use href="#c" x="649" y="158"/><use href="#c" x="648" y="157"/><use href="#c" x="650" y="159"/><use href="#c" x="650" y="157"/><use href="#c" x="650" y="158"/><use href="#c" x="651" y="157"/><use href="#c" x="652" y="159"/><use href="#c" x="652" y="158"/><use href="#c" x="652" y="157"/><use href="#c" x="653" y="158"/><use href="#c" x="653" y="159"/><use href="#c" x="654" y="160"/><use href="#c" x="654" y="158"/><use href="#c" x="655" y="159"/><use href="#c" x="654" y="159"/><use href="#c" x="654" y="157"/><use href="#c" x="655" y="157"/><use href="#c" x="656" y="156"/><use href="#c" x="656" y="160"/><use href="#c" x="656" y="159"/><use href="#c" x="656" y="158"/><use href="#c" x="657" y="157"/><use href="#c" x="657" y="158"/><use href="#c" x="658" y="157"/><use href="#c" x="658" y="158"/><use href="#c" x="658" y="159"/><use href="#c" x="659" y="159"/><use href="#c" x="659" y="158"/><use href="#c" x="659" y="157"/><use href="#c" x="660" y="158"/><use href="#c" x="660" y="157"/><use href="#c" x="660" y="159"/><use href="#c" x="661" y="156"/><use href="#c" x="661" y="157"/><use href="#c" x="661" y="159"/><use href="#c" x="662" y="158"/><use href="#c" x="662" y="156"/><use href="#c" x="662" y="159"/><use href="#c" x="663" y="159"/><use href="#c" x="663" y="158"/><use href="#c" x="664" y="158"/><use href="#c" x="664" y="159"/><use href="#c" x="665" y="159"/><use href="#c" x="666" y="160"/><use href="#c" x="666" y="158"/><use href="#c" x="666" y="159"/><use href="#c" x="667" y="159"/><use href="#c" x="667" y="158"/><use href="#c" x="668" y="157"/><use href="#c" x="668" y="158"/><use href="#c" x="668" y="156"/><use href="#c" x="669" y="158"/><use href="#c" x="670" y="158"/><use href="#c" x="670" y="159"/><use href="#c" x="670" y="157"/><use href="#c" x="671" y="158"/><use href="#c" x="672" y="158"/><use href="#c" x="673" y="157"/><use href="#c" x="672" y="157"/><use href="#c" x="673" y="158"/><use href="#c" x="674" y="158"/><use href="#c" x="674" y="157"/><use href="#c" x="675" y="158"/><use href="#c" x="675" y="159"/><use href="#c" x="676" y="158"/><use href="#c" x="676" y="159"/><use href="#c" x="677" y="159"/><use href="#c" x="676" y="157"/><use href="#c" x="678" y="158"/><use href="#c" x="678" y="157"/><use href="#c" x="678" y="160"/><use href="#c" x="679" y="157"/><use href="#c" x="680" y="159"/><use href="#c" x="680" y="158"/><use href="#c" x="681" y="159"/><use href="#c" x="681" y="158"/><use href="#c" x="682" y="157"/><use href="#c" x="682" y="158"/><use href="#c" x="683" y="158"/><use href="#c" x="684" y="158"/><use href="#c" x="684" y="159"/><use href="#c" x="684" y="157"/><use href="#c" x="685" y="156"/><use href="#c" x="686" y="159"/><use href="#c" x="686" y="158"/><use href="#c" x="689" y="81"/><use href="#c" x="689" y="82"/><use href="#c" x="688" y="80"/><use href="#c" x="689" y="80"/><use href="#c" x="690" y="80"/><use href="#c" x="690" y="81"/><use href="#c" x="691" y="80"/><use href="#c" x="691" y="82"/><use href="#c" x="690" y="82"/><use href="#c" x="692" y="81"/><use href="#c" x="692" y="83"/><use href="#c" x="692" y="82"/><use href="#c" x="692" y="80"/><use href="#c" x="693" y="82"/><use href="#c" x="694" y="81"/><use href="#c" x="694" y="80"/><use href="#c" x="695" y="82"/><use href="#c" x="695" y="81"/><use href="#c" x="696" y="83"/><use href="#c" x="696" y="81"/><use href="#c" x="696" y="80"/><use href="#c" x="696" y="82"/><use href="#c" x="697" y="81"/><use href="#c" x="697" y="82"/><use href="#c" x="697" y="80"/><use href="#c" x="698" y="80"/><use href="#c" x="698" y="81"/><use href="#c" x="698" y="82"/><use href="#c" x="699" y="82"/><use href="#c" x="699" y="81"/><use href="#c" x="700" y="80"/><use href="#c" x="700" y="82"/><use href="#c" x="700" y="81"/><use href="#c" x="701" y="81"/><use href="#c" x="701" y="80"/><use href="#c" x="702" y="81"/><use href="#c" x="702" y="83"/><use href="#c" x="702" y="82"/><use href="#c" x="703" y="82"/><use href="#c" x="703" y="81"/><use href="#c" x="704" y="80"/><use href="#c" x="704" y="83"/><use href="#c" x="704" y="81"/><use href="#c" x="705" y="82"/><use href="#c" x="706" y="83"/><use href="#c" x="706" y="81"/><use href="#c" x="706" y="82"/><use href="#c" x="707" y="83"/><use href="#c" x="706" y="80"/><use href="#c" x="708" y="82"/><use href="#c" x="708" y="81"/><use href="#c" x="709" y="82"/><use href="#c" x="710" y="82"/><use href="#c" x="710" y="80"/><use href="#c" x="711" y="82"/><use href="#c" x="711" y="83"/><use href="#c" x="710" y="81"/><use href="#c" x="712" y="81"/><use href="#c" x="712" y="80"/><use href="#c" x="712" y="82"/><use href="#c" x="714" y="81"/><use href="#c" x="715" y="82"/><use href="#c" x="715" y="81"/><use href="#c" x="714" y="82"/><use href="#c" x="716" y="82"/><use href="#c" x="716" y="81"/><use href="#c" x="717" y="80"/><use href="#c" x="717" y="82"/><use href="#c" x="716" y="83"/><use href="#c" x="716" y="80"/><use href="#c" x="718" y="83"/><use href="#c" x="718" y="81"/><use href="#c" x="718" y="82"/><use href="#c" x="719" y="82"/><use href="#c" x="719" y="81"/><use href="#c" x="720" y="81"/><use href="#c" x="720" y="82"/><use href="#c" x="721" y="81"/><use href="#c" x="722" y="81"/><use href="#c" x="722" y="83"/><use href="#c" x="723" y="81"/><use href="#c" x="722" y="80"/><use href="#c" x="724" y="82"/><use href="#c" x="724" y="80"/><use href="#c" x="724" y="81"/><use href="#c" x="725" y="82"/><use href="#c" x="725" y="81"/><use href="#c" x="726" y="81"/><use href="#c" x="726" y="80"/><use href="#c" x="727" y="81"/><use href="#c" x="728" y="81"/><use href="#c" x="728" y="82"/><use href="#c" x="729" y="81"/><use href="#c" x="729" y="80"/><use href="#c" x="728" y="80"/><use href="#c" x="730" y="81"/><use href="#c" x="730" y="80"/><use href="#c" x="731" y="80"/><use href="#c" x="730" y="82"/><use href="#c" x="732" y="81"/><use href="#c" x="732" y="80"/><use href="#c" x="733" y="82"/><use href="#c" x="733" y="81"/><use href="#c" x="733" y="80"/><use href="#c" x="734" y="80"/><use href="#c" x="734" y="81"/><use href="#c" x="734" y="82"/><use href="#c" x="736" y="81"/><use href="#c" x="736" y="80"/><use href="#c" x="738" y="82"/><use href="#c" x="738" y="81"/><use href="#c" x="738" y="80"/><use href="#c" x="739" y="80"/><use href="#c" x="740" y="81"/><use href="#c" x="740" y="82"/><use href="#c" x="741" y="81"/><use href="#c" x="741" y="82"/><use href="#c" x="742" y="81"/><use href="#c" x="742" y="79"/><use href="#c" x="743" y="81"/><use href="#c" x="742" y="80"/><use href="#c" x="743" y="82"/><use href="#c" x="744" y="82"/><use href="#c" x="744" y="81"/><use href="#c" x="744" y="80"/><use href="#c" x="745" y="81"/><use href="#c" x="745" y="80"/><use href="#c" x="746" y="80"/><use href="#c" x="746" y="81"/><use href="#c" x="747" y="81"/><use href="#c" x="746" y="83"/><use href="#c" x="748" y="80"/><use href="#c" x="748" y="82"/><use href="#c" x="748" y="81"/><use href="#c" x="749" y="81"/><use href="#c" x="748" y="83"/><use href="#c" x="750" y="80"/><use href="#c" x="750" y="82"/><use href="#c" x="750" y="81"/><use href="#c" x="751" y="82"/><use href="#c" x="752" y="83"/><use href="#c" x="752" y="81"/><use href="#c" x="752" y="82"/><use href="#c" x="753" y="82"/><use href="#c" x="754" y="79"/><use href="#c" x="754" y="81"/><use href="#c" x="754" y="82"/><use href="#c" x="754" y="80"/><use href="#c" x="756" y="81"/><use href="#c" x="756" y="82"/><use href="#c" x="756" y="80"/><use href="#c" x="757" y="80"/><use href="#c" x="758" y="82"/><use href="#c" x="758" y="80"/><use href="#c" x="758" y="81"/><use href="#c" x="760" y="81"/><use href="#c" x="760" y="83"/><use href="#c" x="760" y="82"/><use href="#c" x="761" y="82"/><use href="#c" x="761" y="83"/><use href="#c" x="762" y="82"/><use href="#c" x="762" y="81"/><use href="#c" x="762" y="80"/><use href="#c" x="763" y="81"/><use href="#c" x="762" y="79"/><use href="#c" x="764" y="82"/><use href="#c" x="764" y="80"/><use href="#c" x="764" y="81"/><use href="#c" x="765" y="80"/><use href="#c" x="765" y="83"/><use href="#c" x="766" y="82"/><use href="#c" x="766" y="80"/><use href="#c" x="766" y="81"/><use href="#c" x="767" y="82"/><use href="#c" x="768" y="83"/><use href="#c" x="768" y="81"/><use href="#c" x="768" y="80"/><use href="#c" x="769" y="82"/><use href="#c" x="769" y="81"/><use href="#c" x="769" y="83"/><use href="#c" x="770" y="80"/><use href="#c" x="770" y="82"/><use href="#c" x="770" y="81"/><use href="#c" x="771" y="81"/><use href="#c" x="772" y="81"/><use href="#c" x="772" y="80"/><use href="#c" x="772" y="82"/><use href="#c" x="773" y="80"/><use href="#c" x="774" y="81"/><use href="#c" x="774" y="83"/><use href="#c" x="774" y="82"/><use href="#c" x="775" y="81"/><use href="#c" x="776" y="80"/><use href="#c" x="776" y="79"/><use href="#c" x="777" y="81"/><use href="#c" x="776" y="82"/><use href="#c" x="777" y="82"/><use href="#c" x="778" y="80"/><use href="#c" x="778" y="81"/><use href="#c" x="779" y="83"/><use href="#c" x="779" y="81"/><use href="#c" x="778" y="79"/><use href="#c" x="780" y="79"/><use href="#c" x="780" y="80"/><use href="#c" x="780" y="81"/><use href="#c" x="781" y="82"/><use href="#c" x="781" y="81"/><use href="#c" x="782" y="80"/><use href="#c" x="782" y="82"/><use href="#c" x="782" y="81"/><use href="#c" x="783" y="80"/><use href="#c" x="784" y="80"/><use href="#c" x="784" y="81"/><use href="#c" x="785" y="80"/><use href="#c" x="785" y="81"/><use href="#c" x="785" y="82"/><use href="#c" x="784" y="82"/><use href="#c" x="786" y="81"/><use href="#c" x="786" y="80"/><use href="#c" x="786" y="79"/><use href="#c" x="787" y="81"/><use href="#c" x="786" y="82"/><use href="#c" x="788" y="81"/><use href="#c" x="788" y="80"/><use href="#c" x="788" y="83"/><use href="#c" x="788" y="82"/><use href="#c" x="790" y="83"/><use href="#c" x="790" y="82"/><use href="#c" x="791" y="81"/><use href="#c" x="790" y="80"/><use href="#c" x="790" y="79"/><use href="#c" x="792" y="79"/><use href="#c" x="792" y="81"/><use href="#c" x="792" y="82"/><use href="#c" x="793" y="79"/><use href="#c" x="793" y="80"/><use href="#c" x="794" y="81"/><use href="#c" x="794" y="80"/><use href="#c" x="795" y="82"/><use href="#c" x="795" y="79"/><use href="#c" x="796" y="81"/><use href="#c" x="796" y="80"/><use href="#c" x="797" y="81"/><use href="#c" x="797" y="83"/><use href="#c" x="797" y="79"/><use href="#c" x="798" y="81"/><use href="#c" x="798" y="82"/><use href="#c" x="798" y="80"/><use href="#c" x="799" y="82"/><use href="#c" x="798" y="83"/><use href="#c" x="800" y="82"/><use href="#c" x="800" y="81"/><use href="#c" x="800" y="80"/><use href="#c" x="801" y="82"/><use href="#c" x="802" y="82"/><use href="#c" x="802" y="81"/><use href="#c" x="803" y="81"/><use href="#c" x="802" y="80"/><use href="#c" x="804" y="82"/><use href="#c" x="804" y="81"/><use href="#c" x="805" y="81"/><use href="#c" x="806" y="82"/><use href="#c" x="806" y="81"/><use href="#c" x="807" y="80"/><use href="#c" x="806" y="83"/><use href="#c" x="807" y="81"/><use href="#c" x="808" y="81"/><use href="#c" x="808" y="83"/><use href="#c" x="808" y="80"/><use href="#c" x="809" y="82"/><use href="#c" x="810" y="82"/><use href="#c" x="810" y="81"/><use href="#c" x="811" y="81"/><use href="#c" x="811" y="82"/><use href="#c" x="812" y="83"/><use href="#c" x="812" y="81"/><use href="#c" x="812" y="80"/><use href="#c" x="812" y="82"/><use href="#c" x="813" y="82"/><use href="#c" x="814" y="82"/><use href="#c" x="814" y="81"/><use href="#c" x="815" y="81"/><use href="#c" x="814" y="83"/><use href="#c" x="816" y="83"/><use href="#c" x="816" y="82"/><use href="#c" x="816" y="81"/><use href="#c" x="822" y="182"/><use href="#c" x="822" y="184"/><use href="#c" x="822" y="183"/><use href="#c" x="823" y="183"/><use href="#c" x="823" y="184"/><use href="#c" x="824" y="184"/><use href="#c" x="824" y="183"/><use href="#c" x="826" y="183"/><use href="#c" x="826" y="184"/><use href="#c" x="827" y="184"/><use href="#c" x="828" y="183"/><use href="#c" x="828" y="184"/><use href="#c" x="828" y="182"/><use href="#c" x="829" y="184"/><use href="#c" x="829" y="183"/><use href="#c" x="830" y="183"/><use href="#c" x="830" y="184"/><use href="#c" x="832" y="183"/><use href="#c" x="832" y="184"/><use href="#c" x="833" y="184"/><use href="#c" x="833" y="183"/><use href="#c" x="834" y="183"/><use href="#c" x="834" y="184"/><use href="#c" x="835" y="184"/><use href="#c" x="836" y="183"/><use href="#c" x="836" y="184"/><use href="#c" x="837" y="184"/><use href="#c" x="838" y="184"/><use href="#c" x="838" y="183"/><use href="#c" x="839" y="185"/><use href="#c" x="839" y="183"/><use href="#c" x="840" y="184"/><use href="#c" x="840" y="185"/><use href="#c" x="840" y="183"/><use href="#c" x="841" y="182"/><use href="#c" x="841" y="184"/><use href="#c" x="842" y="184"/><use href="#c" x="842" y="185"/><use href="#c" x="842" y="183"/><use href="#c" x="843" y="185"/><use href="#c" x="844" y="185"/><use href="#c" x="844" y="183"/><use href="#c" x="844" y="184"/><use href="#c" x="845" y="183"/><use href="#c" x="845" y="184"/><use href="#c" x="846" y="183"/><use href="#c" x="846" y="185"/><use href="#c" x="846" y="184"/><use href="#c" x="847" y="184"/><use href="#c" x="848" y="184"/><use href="#c" x="848" y="185"/><use href="#c" x="849" y="183"/><use href="#c" x="850" y="184"/><use href="#c" x="850" y="183"/><use href="#c" x="851" y="184"/><use href="#c" x="851" y="185"/><use href="#c" x="851" y="186"/><use href="#c" x="852" y="184"/><use href="#c" x="852" y="185"/><use href="#c" x="852" y="183"/><use href="#c" x="853" y="185"/><use href="#c" x="854" y="183"/><use href="#c" x="854" y="184"/><use href="#c" x="854" y="186"/><use href="#c" x="854" y="185"/><use href="#c" x="855" y="184"/><use href="#c" x="855" y="183"/><use href="#c" x="856" y="185"/><use href="#c" x="856" y="184"/><use href="#c" x="856" y="183"/><use href="#c" x="857" y="184"/><use href="#c" x="857" y="185"/><use href="#c" x="858" y="186"/><use href="#c" x="858" y="183"/><use href="#c" x="858" y="184"/><use href="#c" x="859" y="183"/><use href="#c" x="859" y="184"/><use href="#c" x="860" y="183"/><use href="#c" x="860" y="184"/><use href="#c" x="860" y="186"/><use href="#c" x="861" y="186"/><use href="#c" x="860" y="185"/><use href="#c" x="862" y="184"/><use href="#c" x="863" y="186"/><use href="#c" x="862" y="185"/><use href="#c" x="863" y="185"/><use href="#c" x="864" y="182"/><use href="#c" x="864" y="184"/><use href="#c" x="864" y="186"/><use href="#c" x="864" y="185"/><use href="#c" x="866" y="185"/><use href="#c" x="866" y="183"/><use href="#c" x="866" y="184"/><use href="#c" x="867" y="183"/><use href="#c" x="868" y="183"/><use href="#c" x="868" y="185"/><use href="#c" x="869" y="185"/><use href="#c" x="868" y="184"/><use href="#c" x="869" y="183"/><use href="#c" x="870" y="183"/><use href="#c" x="870" y="184"/><use href="#c" x="870" y="186"/><use href="#c" x="870" y="185"/><use href="#c" x="872" y="183"/><use href="#c" x="872" y="186"/><use href="#c" x="872" y="185"/><use href="#c" x="872" y="184"/><use href="#c" x="873" y="184"/><use href="#c" x="874" y="185"/><use href="#c" x="874" y="182"/><use href="#c" x="874" y="186"/><use href="#c" x="874" y="184"/><use href="#c" x="875" y="184"/><use href="#c" x="875" y="185"/><use href="#c" x="875" y="186"/><use href="#c" x="876" y="184"/><use href="#c" x="876" y="183"/><use href="#c" x="876" y="182"/><use href="#c" x="877" y="186"/><use href="#c" x="877" y="183"/><use href="#c" x="878" y="184"/><use href="#c" x="878" y="183"/><use href="#c" x="878" y="182"/><use href="#c" x="879" y="182"/><use href="#c" x="879" y="185"/><use href="#c" x="880" y="182"/><use href="#c" x="880" y="183"/><use href="#c" x="881" y="184"/><use href="#c" x="880" y="184"/><use href="#c" x="880" y="185"/><use href="#c" x="482" y="170"/><use href="#c" x="485" y="185"/><use href="#c" x="486" y="210"/><use href="#c" x="486" y="231"/><use href="#c" x="553" y="222"/><use href="#c" x="552" y="233"/><use href="#c" x="553" y="210"/><use href="#c" x="553" y="207"/><use href="#c" x="619" y="197"/><use href="#c" x="619" y="180"/><use href="#c" x="619" y="164"/><use href="#c" x="686" y="152"/><use href="#c" x="686" y="132"/><use href="#c" x="687" y="102"/><use href="#c" x="688" y="78"/><use href="#c" x="687" y="82"/><use href="#c" x="688" y="81"/><use href="#c" x="749" y="89"/><use href="#c" x="817" y="71"/><use href="#c" x="818" y="79"/><use href="#c" x="816" y="85"/><use href="#c" x="819" y="98"/><use href="#c" x="819" y="135"/><use href="#c" x="820" y="166"/><use href="#c" x="820" y="175"/><use href="#c" x="822" y="190"/><use href="#c" x="820" y="179"/><use href="#c" x="80" y="417"/><use href="#c" x="80" y="414"/><use href="#c" x="80" y="415"/><use href="#c" x="80" y="416"/><use href="#c" x="81" y="415"/><use href="#c" x="81" y="417"/><use href="#c" x="81" y="414"/><use href="#c" x="82" y="414"/><use href="#c" x="82" y="416"/><use href="#c" x="82" y="415"/><use href="#c" x="83" y="413"/><use href="#c" x="84" y="413"/><use href="#c" x="84" y="417"/><use href="#c" x="84" y="416"/><use href="#c" x="84" y="414"/><use href="#c" x="85" y="415"/><use href="#c" x="86" y="417"/><use href="#c" x="86" y="416"/><use href="#c" x="87" y="414"/><use href="#c" x="86" y="415"/><use href="#c" x="88" y="415"/><use href="#c" x="88" y="416"/><use href="#c" x="89" y="413"/><use href="#c" x="89" y="415"/><use href="#c" x="89" y="414"/><use href="#c" x="90" y="414"/><use href="#c" x="91" y="415"/><use href="#c" x="90" y="415"/><use href="#c" x="90" y="413"/><use href="#c" x="92" y="415"/><use href="#c" x="92" y="417"/><use href="#c" x="92" y="416"/><use href="#c" x="93" y="417"/><use href="#c" x="93" y="416"/><use href="#c" x="93" y="414"/><use href="#c" x="94" y="415"/><use href="#c" x="94" y="416"/><use href="#c" x="95" y="413"/><use href="#c" x="95" y="414"/><use href="#c" x="96" y="416"/><use href="#c" x="96" y="415"/><use href="#c" x="97" y="415"/><use href="#c" x="97" y="416"/><use href="#c" x="96" y="414"/><use href="#c" x="98" y="415"/><use href="#c" x="98" y="417"/><use href="#c" x="98" y="414"/><use href="#c" x="100" y="413"/><use href="#c" x="100" y="416"/><use href="#c" x="100" y="417"/><use href="#c" x="100" y="415"/><use href="#c" x="101" y="416"/><use href="#c" x="101" y="415"/><use href="#c" x="101" y="414"/><use href="#c" x="102" y="414"/><use href="#c" x="102" y="417"/><use href="#c" x="102" y="413"/><use href="#c" x="102" y="415"/><use href="#c" x="103" y="413"/><use href="#c" x="103" y="415"/><use href="#c" x="104" y="416"/><use href="#c" x="104" y="413"/><use href="#c" x="104" y="415"/><use href="#c" x="105" y="413"/><use href="#c" x="104" y="414"/><use href="#c" x="105" y="415"/><use href="#c" x="105" y="416"/><use href="#c" x="106" y="415"/><use href="#c" x="106" y="413"/><use href="#c" x="106" y="416"/><use href="#c" x="107" y="414"/><use href="#c" x="108" y="415"/><use href="#c" x="108" y="414"/><use href="#c" x="109" y="415"/><use href="#c" x="108" y="413"/><use href="#c" x="110" y="414"/><use href="#c" x="110" y="415"/><use href="#c" x="110" y="416"/><use href="#c" x="111" y="414"/><use href="#c" x="111" y="415"/><use href="#c" x="110" y="417"/><use href="#c" x="112" y="414"/><use href="#c" x="112" y="417"/><use href="#c" x="112" y="416"/><use href="#c" x="112" y="415"/><use href="#c" x="113" y="414"/><use href="#c" x="113" y="415"/><use href="#c" x="114" y="417"/><use href="#c" x="114" y="414"/><use href="#c" x="114" y="415"/><use href="#c" x="115" y="415"/><use href="#c" x="114" y="416"/><use href="#c" x="116" y="415"/><use href="#c" x="116" y="414"/><use href="#c" x="116" y="416"/><use href="#c" x="117" y="415"/><use href="#c" x="117" y="413"/><use href="#c" x="118" y="415"/><use href="#c" x="118" y="416"/><use href="#c" x="118" y="414"/><use href="#c" x="119" y="414"/><use href="#c" x="120" y="415"/><use href="#c" x="120" y="417"/><use href="#c" x="120" y="416"/><use href="#c" x="121" y="415"/><use href="#c" x="122" y="416"/><use href="#c" x="122" y="415"/><use href="#c" x="122" y="414"/><use href="#c" x="123" y="415"/><use href="#c" x="123" y="416"/><use href="#c" x="124" y="415"/><use href="#c" x="124" y="416"/><use href="#c" x="125" y="416"/><use href="#c" x="126" y="416"/><use href="#c" x="127" y="416"/><use href="#c" x="127" y="415"/><use href="#c" x="128" y="417"/><use href="#c" x="128" y="416"/><use href="#c" x="128" y="415"/><use href="#c" x="129" y="416"/><use href="#c" x="129" y="414"/><use href="#c" x="130" y="415"/><use href="#c" x="130" y="416"/><use href="#c" x="131" y="415"/><use href="#c" x="132" y="417"/><use href="#c" x="132" y="415"/><use href="#c" x="132" y="416"/><use href="#c" x="133" y="415"/><use href="#c" x="134" y="415"/><use href="#c" x="134" y="414"/><use href="#c" x="135" y="415"/><use href="#c" x="134" y="416"/><use href="#c" x="136" y="414"/><use href="#c" x="136" y="415"/><use href="#c" x="137" y="415"/><use href="#c" x="137" y="417"/><use href="#c" x="138" y="415"/><use href="#c" x="138" y="416"/><use href="#c" x="139" y="417"/><use href="#c" x="138" y="414"/><use href="#c" x="140" y="416"/><use href="#c" x="140" y="415"/><use href="#c" x="141" y="414"/><use href="#c" x="141" y="415"/><use href="#c" x="141" y="417"/><use href="#c" x="142" y="416"/><use href="#c" x="142" y="415"/><use href="#c" x="142" y="414"/><use href="#c" x="143" y="415"/><use href="#c" x="143" y="416"/><use href="#c" x="144" y="416"/><use href="#c" x="144" y="415"/><use href="#c" x="144" y="414"/><use href="#c" x="144" y="417"/><use href="#c" x="145" y="414"/><use href="#c" x="145" y="415"/><use href="#c" x="146" y="415"/><use href="#c" x="146" y="416"/><use href="#c" x="147" y="416"/><use href="#c" x="147" y="415"/><use href="#c" x="148" y="416"/><use href="#c" x="148" y="415"/><use href="#c" x="149" y="415"/><use href="#c" x="149" y="416"/><use href="#c" x="150" y="415"/><use href="#c" x="150" y="416"/><use href="#c" x="151" y="415"/><use href="#c" x="152" y="416"/><use href="#c" x="152" y="415"/><use href="#c" x="153" y="415"/><use href="#c" x="153" y="414"/><use href="#c" x="154" y="416"/><use href="#c" x="154" y="415"/><use href="#c" x="154" y="414"/><use href="#c" x="155" y="416"/><use href="#c" x="156" y="415"/><use href="#c" x="157" y="415"/><use href="#c" x="157" y="416"/><use href="#c" x="158" y="416"/><use href="#c" x="158" y="414"/><use href="#c" x="158" y="415"/><use href="#c" x="159" y="415"/><use href="#c" x="160" y="415"/><use href="#c" x="160" y="414"/><use href="#c" x="160" y="416"/><use href="#c" x="161" y="416"/><use href="#c" x="161" y="415"/><use href="#c" x="162" y="414"/><use href="#c" x="162" y="415"/><use href="#c" x="162" y="417"/><use href="#c" x="162" y="416"/><use href="#c" x="163" y="417"/><use href="#c" x="164" y="415"/><use href="#c" x="164" y="414"/><use href="#c" x="164" y="416"/><use href="#c" x="165" y="415"/><use href="#c" x="165" y="416"/><use href="#c" x="166" y="416"/><use href="#c" x="166" y="414"/><use href="#c" x="167" y="416"/><use href="#c" x="167" y="414"/><use href="#c" x="167" y="415"/><use href="#c" x="168" y="417"/><use href="#c" x="168" y="415"/><use href="#c" x="169" y="415"/><use href="#c" x="168" y="416"/><use href="#c" x="170" y="417"/><use href="#c" x="170" y="415"/><use href="#c" x="170" y="414"/><use href="#c" x="171" y="414"/><use href="#c" x="171" y="415"/><use href="#c" x="172" y="415"/><use href="#c" x="172" y="416"/><use href="#c" x="173" y="416"/><use href="#c" x="174" y="416"/><use href="#c" x="174" y="415"/><use href="#c" x="175" y="414"/><use href="#c" x="175" y="416"/><use href="#c" x="176" y="414"/><use href="#c" x="176" y="416"/><use href="#c" x="176" y="415"/><use href="#c" x="177" y="417"/><use href="#c" x="177" y="418"/><use href="#c" x="177" y="416"/><use href="#c" x="178" y="416"/><use href="#c" x="178" y="415"/><use href="#c" x="179" y="416"/><use href="#c" x="179" y="415"/><use href="#c" x="180" y="416"/><use href="#c" x="180" y="414"/><use href="#c" x="180" y="415"/><use href="#c" x="180" y="417"/><use href="#c" x="181" y="416"/><use href="#c" x="182" y="416"/><use href="#c" x="182" y="415"/><use href="#c" x="182" y="418"/><use href="#c" x="183" y="417"/><use href="#c" x="184" y="416"/><use href="#c" x="184" y="415"/><use href="#c" x="185" y="416"/><use href="#c" x="185" y="414"/><use href="#c" x="184" y="418"/><use href="#c" x="186" y="415"/><use href="#c" x="186" y="416"/><use href="#c" x="187" y="416"/><use href="#c" x="186" y="417"/><use href="#c" x="188" y="418"/><use href="#c" x="188" y="416"/><use href="#c" x="188" y="415"/><use href="#c" x="189" y="415"/><use href="#c" x="190" y="416"/><use href="#c" x="190" y="415"/><use href="#c" x="190" y="414"/><use href="#c" x="191" y="416"/><use href="#c" x="190" y="417"/><use href="#c" x="192" y="416"/><use href="#c" x="192" y="415"/><use href="#c" x="193" y="417"/><use href="#c" x="193" y="414"/><use href="#c" x="193" y="416"/><use href="#c" x="194" y="415"/><use href="#c" x="194" y="416"/><use href="#c" x="195" y="417"/><use href="#c" x="196" y="414"/><use href="#c" x="196" y="415"/><use href="#c" x="196" y="416"/><use href="#c" x="197" y="415"/><use href="#c" x="197" y="416"/><use href="#c" x="198" y="415"/><use href="#c" x="198" y="416"/><use href="#c" x="199" y="416"/><use href="#c" x="199" y="417"/><use href="#c" x="200" y="415"/><use href="#c" x="200" y="416"/><use href="#c" x="201" y="416"/><use href="#c" x="200" y="417"/><use href="#c" x="202" y="416"/><use href="#c" x="202" y="415"/><use href="#c" x="202" y="413"/><use href="#c" x="202" y="417"/><use href="#c" x="203" y="415"/><use href="#c" x="204" y="416"/><use href="#c" x="204" y="413"/><use href="#c" x="204" y="415"/><use href="#c" x="205" y="415"/><use href="#c" x="206" y="414"/><use href="#c" x="206" y="416"/><use href="#c" x="206" y="415"/><use href="#c" x="207" y="415"/><use href="#c" x="208" y="415"/><use href="#c" x="208" y="414"/><use href="#c" x="209" y="414"/><use href="#c" x="208" y="416"/><use href="#c" x="210" y="417"/><use href="#c" x="210" y="415"/><use href="#c" x="210" y="414"/><use href="#c" x="211" y="415"/><use href="#c" x="211" y="416"/><use href="#c" x="211" y="414"/><use href="#c" x="212" y="414"/><use href="#c" x="212" y="415"/><use href="#c" x="213" y="415"/><use href="#c" x="212" y="416"/><use href="#c" x="214" y="416"/><use href="#c" x="214" y="414"/><use href="#c" x="214" y="415"/><use href="#c" x="214" y="417"/><use href="#c" x="215" y="415"/><use href="#c" x="215" y="414"/><use href="#c" x="216" y="417"/><use href="#c" x="216" y="416"/><use href="#c" x="216" y="415"/><use href="#c" x="217" y="416"/><use href="#c" x="217" y="415"/><use href="#c" x="218" y="415"/><use href="#c" x="218" y="416"/><use href="#c" x="219" y="416"/><use href="#c" x="220" y="415"/><use href="#c" x="220" y="414"/><use href="#c" x="221" y="414"/><use href="#c" x="221" y="415"/><use href="#c" x="222" y="415"/><use href="#c" x="222" y="416"/><use href="#c" x="222" y="414"/><use href="#c" x="223" y="417"/><use href="#c" x="224" y="415"/><use href="#c" x="224" y="416"/><use href="#c" x="224" y="417"/><use href="#c" x="225" y="415"/><use href="#c" x="225" y="413"/><use href="#c" x="226" y="415"/><use href="#c" x="226" y="416"/><use href="#c" x="226" y="414"/><use href="#c" x="227" y="416"/><use href="#c" x="227" y="414"/><use href="#c" x="227" y="415"/><use href="#c" x="228" y="416"/><use href="#c" x="228" y="415"/><use href="#c" x="229" y="415"/><use href="#c" x="230" y="416"/><use href="#c" x="230" y="414"/><use href="#c" x="230" y="415"/><use href="#c" x="231" y="416"/><use href="#c" x="232" y="415"/><use href="#c" x="232" y="414"/><use href="#c" x="233" y="415"/><use href="#c" x="232" y="416"/><use href="#c" x="234" y="415"/><use href="#c" x="234" y="417"/><use href="#c" x="235" y="415"/><use href="#c" x="235" y="414"/><use href="#c" x="235" y="416"/><use href="#c" x="234" y="414"/><use href="#c" x="236" y="416"/><use href="#c" x="236" y="414"/><use href="#c" x="237" y="415"/><use href="#c" x="237" y="416"/><use href="#c" x="238" y="415"/><use href="#c" x="239" y="416"/><use href="#c" x="238" y="414"/><use href="#c" x="240" y="415"/><use href="#c" x="240" y="416"/><use href="#c" x="242" y="415"/><use href="#c" x="242" y="416"/><use href="#c" x="243" y="416"/><use href="#c" x="243" y="415"/><use href="#c" x="244" y="415"/><use href="#c" x="244" y="416"/><use href="#c" x="245" y="415"/><use href="#c" x="245" y="416"/><use href="#c" x="246" y="415"/><use href="#c" x="246" y="416"/><use href="#c" x="247" y="415"/><use href="#c" x="248" y="415"/><use href="#c" x="248" y="416"/><use href="#c" x="248" y="414"/><use href="#c" x="249" y="415"/><use href="#c" x="250" y="414"/><use href="#c" x="250" y="416"/><use href="#c" x="250" y="415"/><use href="#c" x="250" y="417"/><use href="#c" x="251" y="415"/><use href="#c" x="252" y="415"/><use href="#c" x="252" y="416"/><use href="#c" x="253" y="416"/><use href="#c" x="252" y="414"/><use href="#c" x="253" y="415"/><use href="#c" x="254" y="417"/><use href="#c" x="254" y="415"/><use href="#c" x="254" y="414"/><use href="#c" x="255" y="416"/><use href="#c" x="254" y="416"/><use href="#c" x="255" y="415"/><use href="#c" x="256" y="415"/><use href="#c" x="256" y="416"/><use href="#c" x="256" y="413"/><use href="#c" x="257" y="415"/><use href="#c" x="258" y="416"/><use href="#c" x="258" y="415"/><use href="#c" x="260" y="415"/><use href="#c" x="260" y="414"/><use href="#c" x="261" y="415"/><use href="#c" x="262" y="415"/><use href="#c" x="262" y="414"/><use href="#c" x="262" y="416"/><use href="#c" x="263" y="415"/><use href="#c" x="263" y="416"/><use href="#c" x="264" y="414"/><use href="#c" x="264" y="413"/><use href="#c" x="264" y="415"/><use href="#c" x="265" y="415"/><use href="#c" x="265" y="416"/><use href="#c" x="266" y="415"/><use href="#c" x="266" y="414"/><use href="#c" x="266" y="413"/><use href="#c" x="267" y="413"/><use href="#c" x="267" y="416"/><use href="#c" x="267" y="414"/><use href="#c" x="266" y="416"/><use href="#c" x="268" y="414"/><use href="#c" x="268" y="415"/><use href="#c" x="269" y="415"/><use href="#c" x="270" y="415"/><use href="#c" x="270" y="414"/><use href="#c" x="271" y="416"/><use href="#c" x="271" y="414"/><use href="#c" x="272" y="416"/><use href="#c" x="272" y="413"/><use href="#c" x="272" y="415"/><use href="#c" x="273" y="415"/><use href="#c" x="272" y="414"/><use href="#c" x="273" y="414"/><use href="#c" x="274" y="414"/><use href="#c" x="274" y="416"/><use href="#c" x="274" y="415"/><use href="#c" x="274" y="417"/><use href="#c" x="276" y="414"/><use href="#c" x="276" y="416"/><use href="#c" x="276" y="415"/><use href="#c" x="277" y="416"/><use href="#c" x="277" y="415"/><use href="#c" x="277" y="414"/><use href="#c" x="278" y="415"/><use href="#c" x="278" y="416"/><use href="#c" x="279" y="415"/><use href="#c" x="278" y="414"/><use href="#c" x="279" y="417"/><use href="#c" x="280" y="413"/><use href="#c" x="280" y="415"/><use href="#c" x="280" y="416"/><use href="#c" x="281" y="415"/><use href="#c" x="281" y="416"/><use href="#c" x="282" y="414"/><use href="#c" x="282" y="413"/><use href="#c" x="282" y="415"/><use href="#c" x="283" y="417"/><use href="#c" x="284" y="415"/><use href="#c" x="284" y="416"/><use href="#c" x="285" y="417"/><use href="#c" x="285" y="415"/><use href="#c" x="286" y="415"/><use href="#c" x="286" y="413"/><use href="#c" x="286" y="417"/><use href="#c" x="286" y="416"/><use href="#c" x="287" y="416"/><use href="#c" x="287" y="417"/><use href="#c" x="288" y="415"/><use href="#c" x="288" y="416"/><use href="#c" x="289" y="416"/><use href="#c" x="288" y="417"/><use href="#c" x="290" y="416"/><use href="#c" x="290" y="415"/><use href="#c" x="290" y="417"/><use href="#c" x="291" y="414"/><use href="#c" x="291" y="416"/><use href="#c" x="292" y="417"/><use href="#c" x="292" y="415"/><use href="#c" x="292" y="416"/><use href="#c" x="293" y="415"/><use href="#c" x="292" y="414"/><use href="#c" x="294" y="416"/><use href="#c" x="294" y="414"/><use href="#c" x="294" y="415"/><use href="#c" x="295" y="415"/><use href="#c" x="296" y="416"/><use href="#c" x="296" y="417"/><use href="#c" x="296" y="415"/><use href="#c" x="296" y="414"/><use href="#c" x="297" y="416"/><use href="#c" x="297" y="415"/><use href="#c" x="298" y="416"/><use href="#c" x="298" y="415"/><use href="#c" x="298" y="417"/><use href="#c" x="299" y="414"/><use href="#c" x="299" y="415"/><use href="#c" x="300" y="417"/><use href="#c" x="300" y="416"/><use href="#c" x="300" y="415"/><use href="#c" x="301" y="415"/><use href="#c" x="300" y="414"/><use href="#c" x="302" y="416"/><use href="#c" x="302" y="415"/><use href="#c" x="302" y="417"/><use href="#c" x="302" y="414"/><use href="#c" x="303" y="416"/><use href="#c" x="304" y="415"/><use href="#c" x="304" y="416"/><use href="#c" x="304" y="417"/><use href="#c" x="305" y="417"/><use href="#c" x="306" y="415"/><use href="#c" x="306" y="416"/><use href="#c" x="307" y="415"/><use href="#c" x="307" y="416"/><use href="#c" x="308" y="417"/><use href="#c" x="308" y="415"/><use href="#c" x="308" y="414"/><use href="#c" x="309" y="416"/><use href="#c" x="309" y="414"/><use href="#c" x="310" y="416"/><use href="#c" x="310" y="417"/><use href="#c" x="310" y="415"/><use href="#c" x="311" y="415"/><use href="#c" x="311" y="416"/><use href="#c" x="312" y="415"/><use href="#c" x="312" y="416"/><use href="#c" x="312" y="414"/><use href="#c" x="312" y="417"/><use href="#c" x="313" y="416"/><use href="#c" x="314" y="417"/><use href="#c" x="314" y="416"/><use href="#c" x="314" y="415"/><use href="#c" x="315" y="416"/><use href="#c" x="316" y="416"/><use href="#c" x="317" y="416"/><use href="#c" x="318" y="415"/><use href="#c" x="318" y="416"/><use href="#c" x="318" y="414"/><use href="#c" x="319" y="415"/><use href="#c" x="320" y="414"/><use href="#c" x="320" y="415"/><use href="#c" x="320" y="416"/><use href="#c" x="321" y="415"/><use href="#c" x="322" y="415"/><use href="#c" x="322" y="414"/><use href="#c" x="323" y="415"/><use href="#c" x="322" y="416"/><use href="#c" x="323" y="414"/><use href="#c" x="324" y="416"/><use href="#c" x="324" y="415"/><use href="#c" x="325" y="415"/><use href="#c" x="325" y="414"/><use href="#c" x="326" y="415"/><use href="#c" x="326" y="416"/><use href="#c" x="327" y="415"/><use href="#c" x="326" y="417"/><use href="#c" x="328" y="415"/><use href="#c" x="328" y="416"/><use href="#c" x="329" y="415"/><use href="#c" x="329" y="416"/><use href="#c" x="330" y="415"/><use href="#c" x="330" y="416"/><use href="#c" x="330" y="414"/><use href="#c" x="332" y="417"/><use href="#c" x="332" y="416"/><use href="#c" x="332" y="415"/><use href="#c" x="333" y="416"/><use href="#c" x="333" y="415"/><use href="#c" x="334" y="415"/><use href="#c" x="334" y="416"/><use href="#c" x="336" y="415"/><use href="#c" x="336" y="416"/><use href="#c" x="337" y="416"/><use href="#c" x="338" y="414"/><use href="#c" x="338" y="413"/><use href="#c" x="338" y="415"/><use href="#c" x="339" y="416"/><use href="#c" x="339" y="415"/><use href="#c" x="338" y="416"/><use href="#c" x="340" y="415"/><use href="#c" x="340" y="414"/><use href="#c" x="341" y="415"/><use href="#c" x="341" y="416"/><use href="#c" x="342" y="417"/><use href="#c" x="342" y="415"/><use href="#c" x="342" y="416"/><use href="#c" x="343" y="416"/><use href="#c" x="343" y="417"/><use href="#c" x="343" y="414"/><use href="#c" x="344" y="415"/><use href="#c" x="345" y="415"/><use href="#c" x="345" y="416"/><use href="#c" x="346" y="415"/><use href="#c" x="346" y="416"/><use href="#c" x="347" y="417"/><use href="#c" x="347" y="416"/><use href="#c" x="348" y="416"/><use href="#c" x="348" y="415"/><use href="#c" x="349" y="415"/><use href="#c" x="349" y="416"/><use href="#c" x="350" y="416"/><use href="#c" x="350" y="415"/><use href="#c" x="351" y="417"/><use href="#c" x="350" y="417"/><use href="#c" x="352" y="416"/><use href="#c" x="352" y="415"/><use href="#c" x="352" y="414"/><use href="#c" x="354" y="416"/><use href="#c" x="354" y="415"/><use href="#c" x="355" y="415"/><use href="#c" x="356" y="416"/><use href="#c" x="356" y="415"/><use href="#c" x="356" y="417"/><use href="#c" x="357" y="414"/><use href="#c" x="357" y="415"/><use href="#c" x="358" y="415"/><use href="#c" x="358" y="416"/><use href="#c" x="359" y="415"/><use href="#c" x="359" y="416"/><use href="#c" x="358" y="417"/><use href="#c" x="360" y="415"/><use href="#c" x="360" y="416"/><use href="#c" x="360" y="414"/><use href="#c" x="360" y="417"/><use href="#c" x="362" y="416"/><use href="#c" x="362" y="415"/><use href="#c" x="362" y="414"/><use href="#c" x="363" y="417"/><use href="#c" x="363" y="414"/><use href="#c" x="363" y="415"/><use href="#c" x="364" y="416"/><use href="#c" x="364" y="413"/><use href="#c" x="364" y="415"/><use href="#c" x="365" y="416"/><use href="#c" x="364" y="417"/><use href="#c" x="365" y="415"/><use href="#c" x="366" y="415"/><use href="#c" x="366" y="416"/><use href="#c" x="367" y="415"/><use href="#c" x="366" y="414"/><use href="#c" x="367" y="414"/><use href="#c" x="368" y="415"/><use href="#c" x="368" y="414"/><use href="#c" x="369" y="415"/><use href="#c" x="368" y="416"/><use href="#c" x="370" y="414"/><use href="#c" x="370" y="417"/><use href="#c" x="371" y="415"/><use href="#c" x="370" y="416"/><use href="#c" x="371" y="414"/><use href="#c" x="372" y="416"/><use href="#c" x="372" y="415"/><use href="#c" x="372" y="413"/><use href="#c" x="373" y="415"/><use href="#c" x="373" y="416"/><use href="#c" x="373" y="414"/><use href="#c" x="374" y="414"/><use href="#c" x="374" y="413"/><use href="#c" x="374" y="416"/><use href="#c" x="375" y="416"/><use href="#c" x="374" y="415"/><use href="#c" x="375" y="414"/><use href="#c" x="376" y="415"/><use href="#c" x="376" y="416"/><use href="#c" x="376" y="414"/><use href="#c" x="377" y="414"/><use href="#c" x="377" y="415"/><use href="#c" x="377" y="416"/><use href="#c" x="378" y="414"/><use href="#c" x="378" y="415"/><use href="#c" x="379" y="415"/><use href="#c" x="379" y="414"/><use href="#c" x="380" y="416"/><use href="#c" x="380" y="415"/><use href="#c" x="380" y="413"/><use href="#c" x="381" y="414"/><use href="#c" x="380" y="414"/><use href="#c" x="382" y="414"/><use href="#c" x="382" y="413"/><use href="#c" x="383" y="415"/><use href="#c" x="382" y="415"/><use href="#c" x="383" y="414"/><use href="#c" x="384" y="415"/><use href="#c" x="384" y="414"/><use href="#c" x="385" y="414"/><use href="#c" x="386" y="414"/><use href="#c" x="386" y="415"/><use href="#c" x="386" y="416"/><use href="#c" x="387" y="414"/><use href="#c" x="387" y="415"/><use href="#c" x="388" y="415"/><use href="#c" x="388" y="414"/><use href="#c" x="388" y="416"/><use href="#c" x="389" y="415"/><use href="#c" x="390" y="414"/><use href="#c" x="390" y="415"/><use href="#c" x="392" y="414"/><use href="#c" x="392" y="417"/><use href="#c" x="392" y="416"/><use href="#c" x="393" y="416"/><use href="#c" x="393" y="414"/><use href="#c" x="393" y="415"/><use href="#c" x="394" y="413"/><use href="#c" x="394" y="415"/><use href="#c" x="394" y="417"/><use href="#c" x="394" y="414"/><use href="#c" x="395" y="416"/><use href="#c" x="395" y="415"/><use href="#c" x="396" y="415"/><use href="#c" x="396" y="416"/><use href="#c" x="397" y="415"/><use href="#c" x="398" y="416"/><use href="#c" x="398" y="415"/><use href="#c" x="398" y="414"/><use href="#c" x="399" y="414"/><use href="#c" x="400" y="414"/><use href="#c" x="400" y="415"/><use href="#c" x="401" y="415"/><use href="#c" x="401" y="414"/><use href="#c" x="401" y="416"/><use href="#c" x="402" y="415"/><use href="#c" x="402" y="414"/><use href="#c" x="402" y="417"/><use href="#c" x="403" y="415"/><use href="#c" x="402" y="416"/><use href="#c" x="403" y="416"/><use href="#c" x="404" y="415"/><use href="#c" x="404" y="416"/><use href="#c" x="405" y="415"/><use href="#c" x="405" y="416"/><use href="#c" x="406" y="414"/><use href="#c" x="406" y="416"/><use href="#c" x="406" y="415"/><use href="#c" x="407" y="416"/><use href="#c" x="407" y="414"/><use href="#c" x="408" y="415"/><use href="#c" x="408" y="416"/><use href="#c" x="409" y="415"/><use href="#c" x="410" y="416"/><use href="#c" x="410" y="415"/><use href="#c" x="412" y="416"/><use href="#c" x="412" y="414"/><use href="#c" x="412" y="415"/><use href="#c" x="413" y="415"/><use href="#c" x="413" y="417"/><use href="#c" x="414" y="414"/><use href="#c" x="414" y="416"/><use href="#c" x="415" y="416"/><use href="#c" x="414" y="415"/><use href="#c" x="416" y="416"/><use href="#c" x="416" y="415"/><use href="#c" x="418" y="416"/><use href="#c" x="418" y="415"/><use href="#c" x="419" y="416"/><use href="#c" x="419" y="415"/><use href="#c" x="420" y="416"/><use href="#c" x="420" y="417"/><use href="#c" x="420" y="415"/><use href="#c" x="421" y="415"/><use href="#c" x="421" y="416"/><use href="#c" x="422" y="415"/><use href="#c" x="422" y="416"/><use href="#c" x="423" y="414"/><use href="#c" x="423" y="415"/><use href="#c" x="424" y="415"/><use href="#c" x="424" y="416"/><use href="#c" x="425" y="416"/><use href="#c" x="426" y="416"/><use href="#c" x="426" y="415"/><use href="#c" x="427" y="416"/><use href="#c" x="427" y="415"/><use href="#c" x="428" y="415"/><use href="#c" x="428" y="414"/><use href="#c" x="429" y="415"/><use href="#c" x="430" y="415"/><use href="#c" x="430" y="416"/><use href="#c" x="431" y="416"/><use href="#c" x="431" y="415"/><use href="#c" x="432" y="415"/><use href="#c" x="432" y="416"/><use href="#c" x="432" y="414"/><use href="#c" x="433" y="415"/><use href="#c" x="433" y="416"/><use href="#c" x="434" y="415"/><use href="#c" x="434" y="414"/><use href="#c" x="434" y="416"/><use href="#c" x="435" y="416"/><use href="#c" x="436" y="415"/><use href="#c" x="436" y="414"/><use href="#c" x="436" y="416"/><use href="#c" x="437" y="415"/><use href="#c" x="438" y="415"/><use href="#c" x="438" y="416"/><use href="#c" x="439" y="415"/><use href="#c" x="440" y="415"/><use href="#c" x="440" y="414"/><use href="#c" x="440" y="416"/><use href="#c" x="441" y="416"/><use href="#c" x="441" y="415"/><use href="#c" x="442" y="414"/><use href="#c" x="442" y="416"/><use href="#c" x="442" y="413"/><use href="#c" x="442" y="415"/><use href="#c" x="443" y="415"/><use href="#c" x="444" y="416"/><use href="#c" x="444" y="415"/><use href="#c" x="445" y="416"/><use href="#c" x="446" y="414"/><use href="#c" x="446" y="415"/><use href="#c" x="446" y="416"/><use href="#c" x="447" y="416"/><use href="#c" x="447" y="415"/><use href="#c" x="448" y="415"/><use href="#c" x="448" y="416"/><use href="#c" x="448" y="414"/><use href="#c" x="449" y="415"/><use href="#c" x="449" y="416"/><use href="#c" x="450" y="415"/><use href="#c" x="450" y="416"/><use href="#c" x="450" y="414"/><use href="#c" x="450" y="417"/><use href="#c" x="452" y="414"/><use href="#c" x="452" y="416"/><use href="#c" x="453" y="416"/><use href="#c" x="453" y="414"/><use href="#c" x="453" y="415"/><use href="#c" x="454" y="415"/><use href="#c" x="454" y="416"/><use href="#c" x="454" y="414"/><use href="#c" x="455" y="414"/><use href="#c" x="456" y="414"/><use href="#c" x="456" y="415"/><use href="#c" x="457" y="416"/><use href="#c" x="457" y="415"/><use href="#c" x="458" y="415"/><use href="#c" x="458" y="416"/><use href="#c" x="459" y="416"/><use href="#c" x="459" y="415"/><use href="#c" x="460" y="415"/><use href="#c" x="460" y="416"/><use href="#c" x="461" y="416"/><use href="#c" x="461" y="417"/><use href="#c" x="461" y="414"/><use href="#c" x="460" y="414"/><use href="#c" x="462" y="416"/><use href="#c" x="462" y="417"/><use href="#c" x="462" y="415"/><use href="#c" x="463" y="417"/><use href="#c" x="464" y="416"/><use href="#c" x="464" y="417"/><use href="#c" x="464" y="414"/><use href="#c" x="465" y="415"/><use href="#c" x="464" y="415"/><use href="#c" x="466" y="414"/><use href="#c" x="466" y="416"/><use href="#c" x="466" y="417"/><use href="#c" x="467" y="415"/><use href="#c" x="467" y="416"/><use href="#c" x="468" y="416"/><use href="#c" x="468" y="417"/><use href="#c" x="469" y="414"/><use href="#c" x="468" y="415"/><use href="#c" x="470" y="417"/><use href="#c" x="470" y="416"/><use href="#c" x="470" y="415"/><use href="#c" x="471" y="416"/><use href="#c" x="470" y="414"/><use href="#c" x="471" y="417"/><use href="#c" x="472" y="415"/><use href="#c" x="472" y="414"/><use href="#c" x="472" y="416"/><use href="#c" x="473" y="415"/><use href="#c" x="474" y="415"/><use href="#c" x="474" y="414"/><use href="#c" x="474" y="418"/><use href="#c" x="474" y="416"/><use href="#c" x="475" y="414"/><use href="#c" x="476" y="414"/><use href="#c" x="476" y="416"/><use href="#c" x="476" y="415"/><use href="#c" x="477" y="417"/><use href="#c" x="477" y="416"/><use href="#c" x="477" y="418"/><use href="#c" x="478" y="416"/><use href="#c" x="478" y="415"/><use href="#c" x="478" y="417"/><use href="#c" x="479" y="415"/><use href="#c" x="479" y="416"/><use href="#c" x="480" y="416"/><use href="#c" x="480" y="415"/><use href="#c" x="480" y="417"/><use href="#c" x="480" y="414"/><use href="#c" x="481" y="416"/><use href="#c" x="481" y="415"/><use href="#c" x="481" y="417"/><use href="#c" x="482" y="414"/><use href="#c" x="482" y="415"/><use href="#c" x="483" y="415"/><use href="#c" x="483" y="416"/><use href="#c" x="484" y="416"/><use href="#c" x="484" y="414"/><use href="#c" x="484" y="415"/><use href="#c" x="485" y="417"/><use href="#c" x="485" y="415"/><use href="#c" x="485" y="416"/><use href="#c" x="488" y="327"/><use href="#c" x="488" y="326"/><use href="#c" x="489" y="326"/><use href="#c" x="489" y="327"/><use href="#c" x="490" y="328"/><use href="#c" x="490" y="327"/><use href="#c" x="490" y="326"/><use href="#c" x="492" y="327"/><use href="#c" x="492" y="326"/><use href="#c" x="493" y="326"/><use href="#c" x="493" y="328"/><use href="#c" x="492" y="328"/><use href="#c" x="494" y="328"/><use href="#c" x="494" y="326"/><use href="#c" x="494" y="327"/><use href="#c" x="495" y="328"/><use href="#c" x="496" y="326"/><use href="#c" x="496" y="328"/><use href="#c" x="496" y="327"/><use href="#c" x="496" y="325"/><use href="#c" x="498" y="326"/><use href="#c" x="498" y="327"/><use href="#c" x="498" y="328"/><use href="#c" x="499" y="326"/><use href="#c" x="499" y="327"/><use href="#c" x="500" y="326"/><use href="#c" x="500" y="327"/><use href="#c" x="500" y="325"/><use href="#c" x="500" y="328"/><use href="#c" x="501" y="327"/><use href="#c" x="502" y="328"/><use href="#c" x="502" y="327"/><use href="#c" x="502" y="326"/><use href="#c" x="502" y="325"/><use href="#c" x="504" y="326"/><use href="#c" x="504" y="325"/><use href="#c" x="504" y="327"/><use href="#c" x="505" y="329"/><use href="#c" x="505" y="328"/><use href="#c" x="506" y="325"/><use href="#c" x="506" y="328"/><use href="#c" x="506" y="326"/><use href="#c" x="506" y="329"/><use href="#c" x="507" y="328"/><use href="#c" x="508" y="326"/><use href="#c" x="508" y="327"/><use href="#c" x="508" y="329"/><use href="#c" x="509" y="326"/><use href="#c" x="509" y="327"/><use href="#c" x="510" y="326"/><use href="#c" x="510" y="329"/><use href="#c" x="510" y="327"/><use href="#c" x="511" y="327"/><use href="#c" x="510" y="325"/><use href="#c" x="511" y="326"/><use href="#c" x="512" y="329"/><use href="#c" x="512" y="327"/><use href="#c" x="512" y="326"/><use href="#c" x="513" y="325"/><use href="#c" x="512" y="325"/><use href="#c" x="512" y="328"/><use href="#c" x="514" y="327"/><use href="#c" x="514" y="325"/><use href="#c" x="514" y="326"/><use href="#c" x="515" y="327"/><use href="#c" x="515" y="326"/><use href="#c" x="516" y="326"/><use href="#c" x="516" y="328"/><use href="#c" x="516" y="327"/><use href="#c" x="517" y="327"/><use href="#c" x="517" y="326"/><use href="#c" x="517" y="325"/><use href="#c" x="518" y="328"/><use href="#c" x="518" y="326"/><use href="#c" x="519" y="327"/><use href="#c" x="518" y="325"/><use href="#c" x="520" y="327"/><use href="#c" x="520" y="328"/><use href="#c" x="520" y="326"/><use href="#c" x="521" y="327"/><use href="#c" x="522" y="326"/><use href="#c" x="522" y="327"/><use href="#c" x="522" y="328"/><use href="#c" x="523" y="327"/><use href="#c" x="523" y="326"/><use href="#c" x="524" y="327"/><use href="#c" x="524" y="326"/><use href="#c" x="525" y="326"/><use href="#c" x="524" y="325"/><use href="#c" x="526" y="328"/><use href="#c" x="526" y="327"/><use href="#c" x="526" y="329"/><use href="#c" x="526" y="326"/><use href="#c" x="527" y="327"/><use href="#c" x="528" y="326"/><use href="#c" x="528" y="327"/><use href="#c" x="528" y="328"/><use href="#c" x="530" y="325"/><use href="#c" x="530" y="327"/><use href="#c" x="530" y="328"/><use href="#c" x="531" y="328"/><use href="#c" x="531" y="327"/><use href="#c" x="532" y="327"/><use href="#c" x="532" y="326"/><use href="#c" x="532" y="328"/><use href="#c" x="533" y="329"/><use href="#c" x="533" y="328"/><use href="#c" x="533" y="326"/><use href="#c" x="534" y="328"/><use href="#c" x="534" y="327"/><use href="#c" x="534" y="326"/><use href="#c" x="535" y="327"/><use href="#c" x="536" y="327"/><use href="#c" x="536" y="328"/><use href="#c" x="537" y="327"/><use href="#c" x="538" y="327"/><use href="#c" x="538" y="328"/><use href="#c" x="539" y="328"/><use href="#c" x="539" y="327"/><use href="#c" x="540" y="327"/><use href="#c" x="541" y="327"/><use href="#c" x="541" y="328"/><use href="#c" x="542" y="328"/><use href="#c" x="542" y="327"/><use href="#c" x="544" y="328"/><use href="#c" x="544" y="327"/><use href="#c" x="545" y="327"/><use href="#c" x="546" y="327"/><use href="#c" x="546" y="328"/><use href="#c" x="547" y="327"/><use href="#c" x="547" y="328"/><use href="#c" x="547" y="326"/><use href="#c" x="548" y="328"/><use href="#c" x="548" y="327"/><use href="#c" x="548" y="326"/><use href="#c" x="549" y="327"/><use href="#c" x="550" y="328"/><use href="#c" x="550" y="327"/><use href="#c" x="551" y="327"/><use href="#c" x="550" y="326"/><use href="#c" x="554" y="401"/><use href="#c" x="553" y="400"/><use href="#c" x="554" y="400"/><use href="#c" x="554" y="398"/><use href="#c" x="556" y="399"/><use href="#c" x="556" y="398"/><use href="#c" x="555" y="399"/><use href="#c" x="555" y="401"/><use href="#c" x="556" y="401"/><use href="#c" x="556" y="400"/><use href="#c" x="557" y="399"/><use href="#c" x="558" y="401"/><use href="#c" x="558" y="399"/><use href="#c" x="558" y="400"/><use href="#c" x="560" y="399"/><use href="#c" x="560" y="401"/><use href="#c" x="559" y="401"/><use href="#c" x="560" y="400"/><use href="#c" x="562" y="400"/><use href="#c" x="562" y="399"/><use href="#c" x="561" y="399"/><use href="#c" x="562" y="398"/><use href="#c" x="564" y="400"/><use href="#c" x="563" y="399"/><use href="#c" x="564" y="401"/><use href="#c" x="564" y="399"/><use href="#c" x="564" y="402"/><use href="#c" x="564" y="398"/><use href="#c" x="565" y="401"/><use href="#c" x="566" y="399"/><use href="#c" x="566" y="400"/><use href="#c" x="565" y="400"/><use href="#c" x="566" y="401"/><use href="#c" x="567" y="402"/><use href="#c" x="567" y="399"/><use href="#c" x="568" y="400"/><use href="#c" x="568" y="401"/><use href="#c" x="568" y="399"/><use href="#c" x="570" y="399"/><use href="#c" x="570" y="398"/><use href="#c" x="570" y="401"/><use href="#c" x="570" y="400"/><use href="#c" x="572" y="399"/><use href="#c" x="572" y="401"/><use href="#c" x="571" y="400"/><use href="#c" x="572" y="400"/><use href="#c" x="574" y="399"/><use href="#c" x="573" y="400"/><use href="#c" x="574" y="400"/><use href="#c" x="574" y="402"/><use href="#c" x="574" y="401"/><use href="#c" x="575" y="399"/><use href="#c" x="575" y="400"/><use href="#c" x="575" y="398"/><use href="#c" x="576" y="400"/><use href="#c" x="576" y="401"/><use href="#c" x="576" y="399"/><use href="#c" x="578" y="399"/><use href="#c" x="577" y="399"/><use href="#c" x="577" y="401"/><use href="#c" x="578" y="400"/><use href="#c" x="580" y="400"/><use href="#c" x="580" y="398"/><use href="#c" x="579" y="401"/><use href="#c" x="580" y="402"/><use href="#c" x="580" y="399"/><use href="#c" x="582" y="401"/><use href="#c" x="582" y="402"/><use href="#c" x="581" y="399"/><use href="#c" x="582" y="399"/><use href="#c" x="582" y="400"/><use href="#c" x="583" y="398"/><use href="#c" x="583" y="401"/><use href="#c" x="584" y="402"/><use href="#c" x="584" y="400"/><use href="#c" x="584" y="399"/><use href="#c" x="585" y="400"/><use href="#c" x="586" y="400"/><use href="#c" x="585" y="401"/><use href="#c" x="585" y="399"/><use href="#c" x="586" y="401"/><use href="#c" x="588" y="401"/><use href="#c" x="587" y="400"/><use href="#c" x="587" y="401"/><use href="#c" x="587" y="399"/><use href="#c" x="588" y="402"/><use href="#c" x="588" y="400"/><use href="#c" x="590" y="401"/><use href="#c" x="590" y="402"/><use href="#c" x="589" y="400"/><use href="#c" x="590" y="400"/><use href="#c" x="590" y="399"/><use href="#c" x="592" y="401"/><use href="#c" x="591" y="401"/><use href="#c" x="592" y="400"/><use href="#c" x="591" y="399"/><use href="#c" x="592" y="402"/><use href="#c" x="594" y="402"/><use href="#c" x="593" y="400"/><use href="#c" x="593" y="398"/><use href="#c" x="594" y="400"/><use href="#c" x="594" y="401"/><use href="#c" x="594" y="399"/><use href="#c" x="595" y="399"/><use href="#c" x="596" y="400"/><use href="#c" x="595" y="401"/><use href="#c" x="596" y="399"/><use href="#c" x="596" y="401"/><use href="#c" x="598" y="400"/><use href="#c" x="597" y="400"/><use href="#c" x="597" y="399"/><use href="#c" x="598" y="399"/><use href="#c" x="599" y="400"/><use href="#c" x="600" y="398"/><use href="#c" x="599" y="401"/><use href="#c" x="600" y="401"/><use href="#c" x="600" y="399"/><use href="#c" x="602" y="400"/><use href="#c" x="601" y="402"/><use href="#c" x="602" y="399"/><use href="#c" x="601" y="401"/><use href="#c" x="602" y="401"/><use href="#c" x="602" y="402"/><use href="#c" x="603" y="399"/><use href="#c" x="603" y="400"/><use href="#c" x="604" y="401"/><use href="#c" x="604" y="400"/><use href="#c" x="605" y="400"/><use href="#c" x="606" y="399"/><use href="#c" x="606" y="400"/><use href="#c" x="605" y="399"/><use href="#c" x="606" y="401"/><use href="#c" x="608" y="401"/><use href="#c" x="607" y="400"/><use href="#c" x="608" y="399"/><use href="#c" x="608" y="400"/><use href="#c" x="608" y="398"/><use href="#c" x="609" y="400"/><use href="#c" x="609" y="399"/><use href="#c" x="610" y="400"/><use href="#c" x="610" y="399"/><use href="#c" x="612" y="398"/><use href="#c" x="611" y="400"/><use href="#c" x="611" y="399"/><use href="#c" x="612" y="401"/><use href="#c" x="612" y="400"/><use href="#c" x="612" y="399"/><use href="#c" x="613" y="400"/><use href="#c" x="614" y="399"/><use href="#c" x="613" y="401"/><use href="#c" x="614" y="401"/><use href="#c" x="614" y="400"/><use href="#c" x="615" y="401"/><use href="#c" x="616" y="400"/><use href="#c" x="616" y="401"/><use href="#c" x="616" y="399"/><use href="#c" x="617" y="401"/><use href="#c" x="618" y="400"/><use href="#c" x="618" y="399"/><use href="#c" x="617" y="400"/><use href="#c" x="618" y="401"/><use href="#c" x="619" y="400"/><use href="#c" x="619" y="401"/><use href="#c" x="620" y="400"/><use href="#c" x="624" y="446"/><use href="#c" x="624" y="443"/><use href="#c" x="625" y="443"/><use href="#c" x="625" y="444"/><use href="#c" x="625" y="442"/><use href="#c" x="626" y="444"/><use href="#c" x="626" y="442"/><use href="#c" x="626" y="443"/><use href="#c" x="627" y="444"/><use href="#c" x="627" y="443"/><use href="#c" x="626" y="445"/><use href="#c" x="628" y="445"/><use href="#c" x="628" y="444"/><use href="#c" x="628" y="443"/><use href="#c" x="629" y="444"/><use href="#c" x="629" y="443"/><use href="#c" x="630" y="443"/><use href="#c" x="630" y="444"/><use href="#c" x="631" y="444"/><use href="#c" x="632" y="444"/><use href="#c" x="632" y="443"/><use href="#c" x="633" y="444"/><use href="#c" x="633" y="445"/><use href="#c" x="633" y="443"/><use href="#c" x="634" y="442"/><use href="#c" x="634" y="443"/><use href="#c" x="634" y="444"/><use href="#c" x="635" y="444"/><use href="#c" x="635" y="442"/><use href="#c" x="636" y="444"/><use href="#c" x="636" y="442"/><use href="#c" x="636" y="443"/><use href="#c" x="637" y="443"/><use href="#c" x="637" y="442"/><use href="#c" x="638" y="444"/><use href="#c" x="638" y="443"/><use href="#c" x="639" y="444"/><use href="#c" x="640" y="443"/><use href="#c" x="640" y="442"/><use href="#c" x="641" y="442"/><use href="#c" x="640" y="444"/><use href="#c" x="642" y="443"/><use href="#c" x="642" y="444"/><use href="#c" x="643" y="443"/><use href="#c" x="644" y="444"/><use href="#c" x="644" y="443"/><use href="#c" x="644" y="445"/><use href="#c" x="645" y="444"/><use href="#c" x="646" y="444"/><use href="#c" x="646" y="443"/><use href="#c" x="647" y="443"/><use href="#c" x="647" y="445"/><use href="#c" x="647" y="444"/><use href="#c" x="648" y="442"/><use href="#c" x="648" y="443"/><use href="#c" x="649" y="444"/><use href="#c" x="650" y="442"/><use href="#c" x="650" y="445"/><use href="#c" x="650" y="444"/><use href="#c" x="651" y="444"/><use href="#c" x="650" y="443"/><use href="#c" x="651" y="443"/><use href="#c" x="652" y="443"/><use href="#c" x="652" y="444"/><use href="#c" x="652" y="442"/><use href="#c" x="653" y="444"/><use href="#c" x="653" y="445"/><use href="#c" x="654" y="445"/><use href="#c" x="654" y="444"/><use href="#c" x="655" y="444"/><use href="#c" x="654" y="443"/><use href="#c" x="656" y="444"/><use href="#c" x="656" y="443"/><use href="#c" x="657" y="444"/><use href="#c" x="658" y="444"/><use href="#c" x="658" y="445"/><use href="#c" x="659" y="444"/><use href="#c" x="658" y="443"/><use href="#c" x="660" y="444"/><use href="#c" x="660" y="442"/><use href="#c" x="660" y="443"/><use href="#c" x="661" y="444"/><use href="#c" x="662" y="443"/><use href="#c" x="662" y="444"/><use href="#c" x="663" y="444"/><use href="#c" x="663" y="445"/><use href="#c" x="664" y="444"/><use href="#c" x="664" y="445"/><use href="#c" x="664" y="443"/><use href="#c" x="665" y="443"/><use href="#c" x="665" y="444"/><use href="#c" x="666" y="443"/><use href="#c" x="666" y="442"/><use href="#c" x="666" y="445"/><use href="#c" x="666" y="444"/><use href="#c" x="667" y="444"/><use href="#c" x="668" y="444"/><use href="#c" x="668" y="445"/><use href="#c" x="668" y="443"/><use href="#c" x="669" y="444"/><use href="#c" x="670" y="444"/><use href="#c" x="670" y="443"/><use href="#c" x="670" y="445"/><use href="#c" x="670" y="442"/><use href="#c" x="671" y="443"/><use href="#c" x="672" y="443"/><use href="#c" x="672" y="444"/><use href="#c" x="673" y="444"/><use href="#c" x="673" y="443"/><use href="#c" x="674" y="444"/><use href="#c" x="674" y="443"/><use href="#c" x="675" y="444"/><use href="#c" x="675" y="443"/><use href="#c" x="676" y="444"/><use href="#c" x="676" y="443"/><use href="#c" x="677" y="445"/><use href="#c" x="678" y="444"/><use href="#c" x="678" y="443"/><use href="#c" x="679" y="443"/><use href="#c" x="680" y="443"/><use href="#c" x="680" y="444"/><use href="#c" x="681" y="444"/><use href="#c" x="681" y="443"/><use href="#c" x="682" y="444"/><use href="#c" x="682" y="443"/><use href="#c" x="683" y="444"/><use href="#c" x="684" y="442"/><use href="#c" x="684" y="444"/><use href="#c" x="684" y="443"/><use href="#c" x="686" y="443"/><use href="#c" x="686" y="444"/><use href="#c" x="688" y="478"/><use href="#c" x="689" y="478"/><use href="#c" x="688" y="479"/><use href="#c" x="690" y="479"/><use href="#c" x="690" y="477"/><use href="#c" x="691" y="478"/><use href="#c" x="692" y="478"/><use href="#c" x="693" y="478"/><use href="#c" x="694" y="478"/><use href="#c" x="694" y="479"/><use href="#c" x="695" y="477"/><use href="#c" x="694" y="477"/><use href="#c" x="696" y="478"/><use href="#c" x="696" y="479"/><use href="#c" x="697" y="479"/><use href="#c" x="697" y="478"/><use href="#c" x="698" y="478"/><use href="#c" x="698" y="479"/><use href="#c" x="699" y="478"/><use href="#c" x="700" y="478"/><use href="#c" x="700" y="477"/><use href="#c" x="701" y="478"/><use href="#c" x="702" y="479"/><use href="#c" x="702" y="478"/><use href="#c" x="703" y="479"/><use href="#c" x="703" y="478"/><use href="#c" x="703" y="477"/><use href="#c" x="704" y="478"/><use href="#c" x="704" y="480"/><use href="#c" x="705" y="478"/><use href="#c" x="704" y="477"/><use href="#c" x="706" y="477"/><use href="#c" x="706" y="479"/><use href="#c" x="707" y="479"/><use href="#c" x="707" y="478"/><use href="#c" x="708" y="478"/><use href="#c" x="708" y="479"/><use href="#c" x="709" y="478"/><use href="#c" x="709" y="479"/><use href="#c" x="710" y="478"/><use href="#c" x="710" y="480"/><use href="#c" x="710" y="479"/><use href="#c" x="711" y="479"/><use href="#c" x="711" y="478"/><use href="#c" x="712" y="478"/><use href="#c" x="712" y="479"/><use href="#c" x="712" y="480"/><use href="#c" x="712" y="477"/><use href="#c" x="714" y="478"/><use href="#c" x="714" y="479"/><use href="#c" x="715" y="478"/><use href="#c" x="715" y="479"/><use href="#c" x="716" y="479"/><use href="#c" x="716" y="478"/><use href="#c" x="717" y="479"/><use href="#c" x="717" y="478"/><use href="#c" x="716" y="480"/><use href="#c" x="718" y="479"/><use href="#c" x="718" y="478"/><use href="#c" x="719" y="479"/><use href="#c" x="719" y="477"/><use href="#c" x="718" y="477"/><use href="#c" x="720" y="478"/><use href="#c" x="720" y="479"/><use href="#c" x="721" y="477"/><use href="#c" x="722" y="479"/><use href="#c" x="722" y="478"/><use href="#c" x="722" y="477"/><use href="#c" x="724" y="478"/><use href="#c" x="724" y="479"/><use href="#c" x="725" y="478"/><use href="#c" x="725" y="479"/><use href="#c" x="726" y="479"/><use href="#c" x="726" y="478"/><use href="#c" x="726" y="477"/><use href="#c" x="727" y="479"/><use href="#c" x="728" y="479"/><use href="#c" x="728" y="478"/><use href="#c" x="728" y="477"/><use href="#c" x="729" y="478"/><use href="#c" x="729" y="479"/><use href="#c" x="730" y="478"/><use href="#c" x="730" y="479"/><use href="#c" x="731" y="479"/><use href="#c" x="730" y="477"/><use href="#c" x="732" y="478"/><use href="#c" x="733" y="479"/><use href="#c" x="732" y="477"/><use href="#c" x="734" y="478"/><use href="#c" x="734" y="480"/><use href="#c" x="735" y="477"/><use href="#c" x="734" y="477"/><use href="#c" x="736" y="477"/><use href="#c" x="736" y="478"/><use href="#c" x="736" y="479"/><use href="#c" x="737" y="478"/><use href="#c" x="737" y="479"/><use href="#c" x="738" y="477"/><use href="#c" x="738" y="478"/><use href="#c" x="739" y="478"/><use href="#c" x="738" y="476"/><use href="#c" x="739" y="476"/><use href="#c" x="740" y="477"/><use href="#c" x="740" y="479"/><use href="#c" x="740" y="478"/><use href="#c" x="741" y="478"/><use href="#c" x="742" y="478"/><use href="#c" x="742" y="477"/><use href="#c" x="742" y="479"/><use href="#c" x="743" y="479"/><use href="#c" x="743" y="476"/><use href="#c" x="743" y="477"/><use href="#c" x="744" y="478"/><use href="#c" x="744" y="477"/><use href="#c" x="744" y="479"/><use href="#c" x="745" y="476"/><use href="#c" x="745" y="478"/><use href="#c" x="745" y="477"/><use href="#c" x="746" y="478"/><use href="#c" x="747" y="478"/><use href="#c" x="746" y="477"/><use href="#c" x="748" y="477"/><use href="#c" x="748" y="478"/><use href="#c" x="749" y="479"/><use href="#c" x="750" y="478"/><use href="#c" x="750" y="479"/><use href="#c" x="750" y="477"/><use href="#c" x="751" y="478"/><use href="#c" x="752" y="477"/><use href="#c" x="752" y="478"/><use href="#c" x="752" y="479"/><use href="#c" x="753" y="479"/><use href="#c" x="753" y="477"/><use href="#c" x="754" y="479"/><use href="#c" x="754" y="478"/><use href="#c" x="755" y="478"/><use href="#c" x="756" y="478"/><use href="#c" x="756" y="477"/><use href="#c" x="756" y="479"/><use href="#c" x="757" y="478"/><use href="#c" x="758" y="478"/><use href="#c" x="758" y="477"/><use href="#c" x="758" y="479"/><use href="#c" x="760" y="478"/><use href="#c" x="760" y="477"/><use href="#c" x="761" y="478"/><use href="#c" x="761" y="477"/><use href="#c" x="762" y="478"/><use href="#c" x="762" y="479"/><use href="#c" x="762" y="477"/><use href="#c" x="763" y="478"/><use href="#c" x="764" y="478"/><use href="#c" x="764" y="479"/><use href="#c" x="764" y="477"/><use href="#c" x="764" y="480"/><use href="#c" x="765" y="478"/><use href="#c" x="766" y="478"/><use href="#c" x="766" y="479"/><use href="#c" x="767" y="478"/><use href="#c" x="767" y="477"/><use href="#c" x="768" y="478"/><use href="#c" x="768" y="479"/><use href="#c" x="768" y="477"/><use href="#c" x="769" y="479"/><use href="#c" x="769" y="478"/><use href="#c" x="770" y="478"/><use href="#c" x="771" y="478"/><use href="#c" x="770" y="479"/><use href="#c" x="771" y="479"/><use href="#c" x="772" y="478"/><use href="#c" x="773" y="477"/><use href="#c" x="772" y="479"/><use href="#c" x="773" y="478"/><use href="#c" x="774" y="478"/><use href="#c" x="774" y="476"/><use href="#c" x="774" y="479"/><use href="#c" x="775" y="478"/><use href="#c" x="775" y="477"/><use href="#c" x="776" y="477"/><use href="#c" x="776" y="478"/><use href="#c" x="777" y="478"/><use href="#c" x="778" y="478"/><use href="#c" x="778" y="479"/><use href="#c" x="778" y="477"/><use href="#c" x="779" y="478"/><use href="#c" x="780" y="478"/><use href="#c" x="780" y="477"/><use href="#c" x="781" y="477"/><use href="#c" x="781" y="478"/><use href="#c" x="782" y="478"/><use href="#c" x="783" y="478"/><use href="#c" x="783" y="477"/><use href="#c" x="784" y="477"/><use href="#c" x="784" y="478"/><use href="#c" x="785" y="478"/><use href="#c" x="785" y="477"/><use href="#c" x="785" y="479"/><use href="#c" x="786" y="478"/><use href="#c" x="787" y="478"/><use href="#c" x="786" y="477"/><use href="#c" x="788" y="478"/><use href="#c" x="788" y="477"/><use href="#c" x="788" y="479"/><use href="#c" x="790" y="478"/><use href="#c" x="790" y="479"/><use href="#c" x="791" y="478"/><use href="#c" x="790" y="477"/><use href="#c" x="792" y="477"/><use href="#c" x="792" y="479"/><use href="#c" x="792" y="478"/><use href="#c" x="794" y="479"/><use href="#c" x="794" y="478"/><use href="#c" x="794" y="476"/><use href="#c" x="795" y="477"/><use href="#c" x="794" y="477"/><use href="#c" x="796" y="478"/><use href="#c" x="796" y="477"/><use href="#c" x="797" y="478"/><use href="#c" x="797" y="477"/><use href="#c" x="798" y="479"/><use href="#c" x="798" y="477"/><use href="#c" x="798" y="478"/><use href="#c" x="800" y="477"/><use href="#c" x="800" y="478"/><use href="#c" x="800" y="479"/><use href="#c" x="801" y="478"/><use href="#c" x="801" y="477"/><use href="#c" x="802" y="478"/><use href="#c" x="802" y="479"/><use href="#c" x="802" y="477"/><use href="#c" x="803" y="478"/><use href="#c" x="803" y="479"/><use href="#c" x="804" y="477"/><use href="#c" x="804" y="478"/><use href="#c" x="805" y="478"/><use href="#c" x="804" y="479"/><use href="#c" x="806" y="479"/><use href="#c" x="806" y="477"/><use href="#c" x="807" y="480"/><use href="#c" x="807" y="478"/><use href="#c" x="807" y="479"/><use href="#c" x="808" y="477"/><use href="#c" x="808" y="478"/><use href="#c" x="808" y="479"/><use href="#c" x="809" y="478"/><use href="#c" x="810" y="477"/><use href="#c" x="810" y="479"/><use href="#c" x="810" y="478"/><use href="#c" x="811" y="479"/><use href="#c" x="810" y="480"/><use href="#c" x="812" y="478"/><use href="#c" x="812" y="479"/><use href="#c" x="813" y="478"/><use href="#c" x="813" y="477"/><use href="#c" x="812" y="477"/><use href="#c" x="814" y="478"/><use href="#c" x="814" y="479"/><use href="#c" x="815" y="478"/><use href="#c" x="815" y="477"/><use href="#c" x="816" y="477"/><use href="#c" x="816" y="476"/><use href="#c" x="816" y="478"/><use href="#c" x="817" y="479"/><use href="#c" x="818" y="479"/><use href="#c" x="818" y="478"/><use href="#c" x="818" y="477"/><use href="#c" x="819" y="477"/><use href="#c" x="819" y="478"/><use href="#c" x="820" y="476"/><use href="#c" x="820" y="479"/><use href="#c" x="820" y="478"/><use href="#c" x="821" y="478"/><use href="#c" x="822" y="477"/><use href="#c" x="822" y="478"/><use href="#c" x="823" y="479"/><use href="#c" x="822" y="480"/><use href="#c" x="822" y="479"/><use href="#c" x="824" y="478"/><use href="#c" x="824" y="480"/><use href="#c" x="824" y="477"/><use href="#c" x="824" y="479"/><use href="#c" x="825" y="478"/><use href="#c" x="826" y="480"/><use href="#c" x="826" y="478"/><use href="#c" x="826" y="479"/><use href="#c" x="827" y="478"/><use href="#c" x="826" y="477"/><use href="#c" x="828" y="478"/><use href="#c" x="828" y="479"/><use href="#c" x="829" y="477"/><use href="#c" x="829" y="479"/><use href="#c" x="829" y="478"/><use href="#c" x="830" y="480"/><use href="#c" x="830" y="479"/><use href="#c" x="830" y="477"/><use href="#c" x="831" y="480"/><use href="#c" x="831" y="478"/><use href="#c" x="831" y="477"/><use href="#c" x="832" y="478"/><use href="#c" x="832" y="479"/><use href="#c" x="833" y="477"/><use href="#c" x="833" y="478"/><use href="#c" x="834" y="478"/><use href="#c" x="834" y="479"/><use href="#c" x="834" y="477"/><use href="#c" x="835" y="478"/><use href="#c" x="835" y="479"/><use href="#c" x="836" y="479"/><use href="#c" x="836" y="478"/><use href="#c" x="837" y="479"/><use href="#c" x="837" y="480"/><use href="#c" x="838" y="479"/><use href="#c" x="838" y="477"/><use href="#c" x="839" y="479"/><use href="#c" x="839" y="478"/><use href="#c" x="839" y="477"/><use href="#c" x="840" y="478"/><use href="#c" x="840" y="480"/><use href="#c" x="840" y="477"/><use href="#c" x="841" y="478"/><use href="#c" x="841" y="479"/><use href="#c" x="842" y="478"/><use href="#c" x="842" y="479"/><use href="#c" x="842" y="477"/><use href="#c" x="843" y="479"/><use href="#c" x="844" y="478"/><use href="#c" x="844" y="480"/><use href="#c" x="845" y="477"/><use href="#c" x="844" y="479"/><use href="#c" x="845" y="478"/><use href="#c" x="846" y="478"/><use href="#c" x="846" y="479"/><use href="#c" x="846" y="477"/><use href="#c" x="847" y="478"/><use href="#c" x="847" y="479"/><use href="#c" x="848" y="477"/><use href="#c" x="848" y="478"/><use href="#c" x="848" y="479"/><use href="#c" x="849" y="478"/><use href="#c" x="850" y="477"/><use href="#c" x="850" y="478"/><use href="#c" x="850" y="479"/><use href="#c" x="851" y="477"/><use href="#c" x="851" y="478"/><use href="#c" x="852" y="479"/><use href="#c" x="852" y="478"/><use href="#c" x="853" y="478"/><use href="#c" x="853" y="477"/><use href="#c" x="852" y="477"/><use href="#c" x="854" y="477"/><use href="#c" x="854" y="478"/><use href="#c" x="855" y="479"/><use href="#c" x="855" y="477"/><use href="#c" x="856" y="479"/><use href="#c" x="856" y="478"/><use href="#c" x="856" y="477"/><use href="#c" x="858" y="478"/><use href="#c" x="858" y="477"/><use href="#c" x="859" y="476"/><use href="#c" x="859" y="478"/><use href="#c" x="859" y="479"/><use href="#c" x="860" y="477"/><use href="#c" x="860" y="478"/><use href="#c" x="860" y="479"/><use href="#c" x="862" y="477"/><use href="#c" x="862" y="479"/><use href="#c" x="862" y="478"/><use href="#c" x="863" y="479"/><use href="#c" x="863" y="478"/><use href="#c" x="864" y="479"/><use href="#c" x="864" y="478"/><use href="#c" x="865" y="477"/><use href="#c" x="864" y="477"/><use href="#c" x="866" y="478"/><use href="#c" x="866" y="479"/><use href="#c" x="867" y="478"/><use href="#c" x="868" y="478"/><use href="#c" x="868" y="477"/><use href="#c" x="869" y="478"/><use href="#c" x="869" y="479"/><use href="#c" x="870" y="478"/><use href="#c" x="870" y="477"/><use href="#c" x="871" y="478"/><use href="#c" x="871" y="479"/><use href="#c" x="872" y="479"/><use href="#c" x="872" y="478"/><use href="#c" x="872" y="477"/><use href="#c" x="874" y="479"/><use href="#c" x="874" y="477"/><use href="#c" x="874" y="478"/><use href="#c" x="875" y="478"/><use href="#c" x="876" y="478"/><use href="#c" x="876" y="477"/><use href="#c" x="877" y="479"/><use href="#c" x="878" y="479"/><use href="#c" x="878" y="478"/><use href="#c" x="879" y="478"/><use href="#c" x="880" y="480"/><use href="#c" x="880" y="477"/><use href="#c" x="880" y="478"/><use href="#c" x="880" y="479"/><use href="#c" x="881" y="478"/><use href="#c" x="486" y="402"/><use href="#c" x="487" y="374"/><use href="#c" x="487" y="343"/><use href="#c" x="552" y="335"/><use href="#c" x="552" y="362"/><use href="#c" x="553" y="376"/><use href="#c" x="553" y="397"/><use href="#c" x="620" y="416"/><use href="#c" x="620" y="430"/><use href="#c" x="620" y="434"/><use href="#c" x="621" y="437"/><use href="#c" x="622" y="440"/><use href="#c" x="622" y="442"/><use href="#c" x="623" y="442"/><use href="#c" x="620" y="402"/><use href="#c" x="687" y="455"/><use href="#c" x="687" y="468"/><use href="#c" x="750" y="485"/><use href="#c" x="749" y="475"/><use href="#c" x="817" y="451"/><use href="#c" x="817" y="463"/><use href="#c" x="818" y="466"/><use href="#c" x="818" y="468"/><use href="#c" x="818" y="470"/><use href="#c" x="819" y="471"/><use href="#c" x="819" y="472"/><use href="#c" x="820" y="474"/><use href="#c" x="816" y="494"/></g>
</svg>
</body></html>
